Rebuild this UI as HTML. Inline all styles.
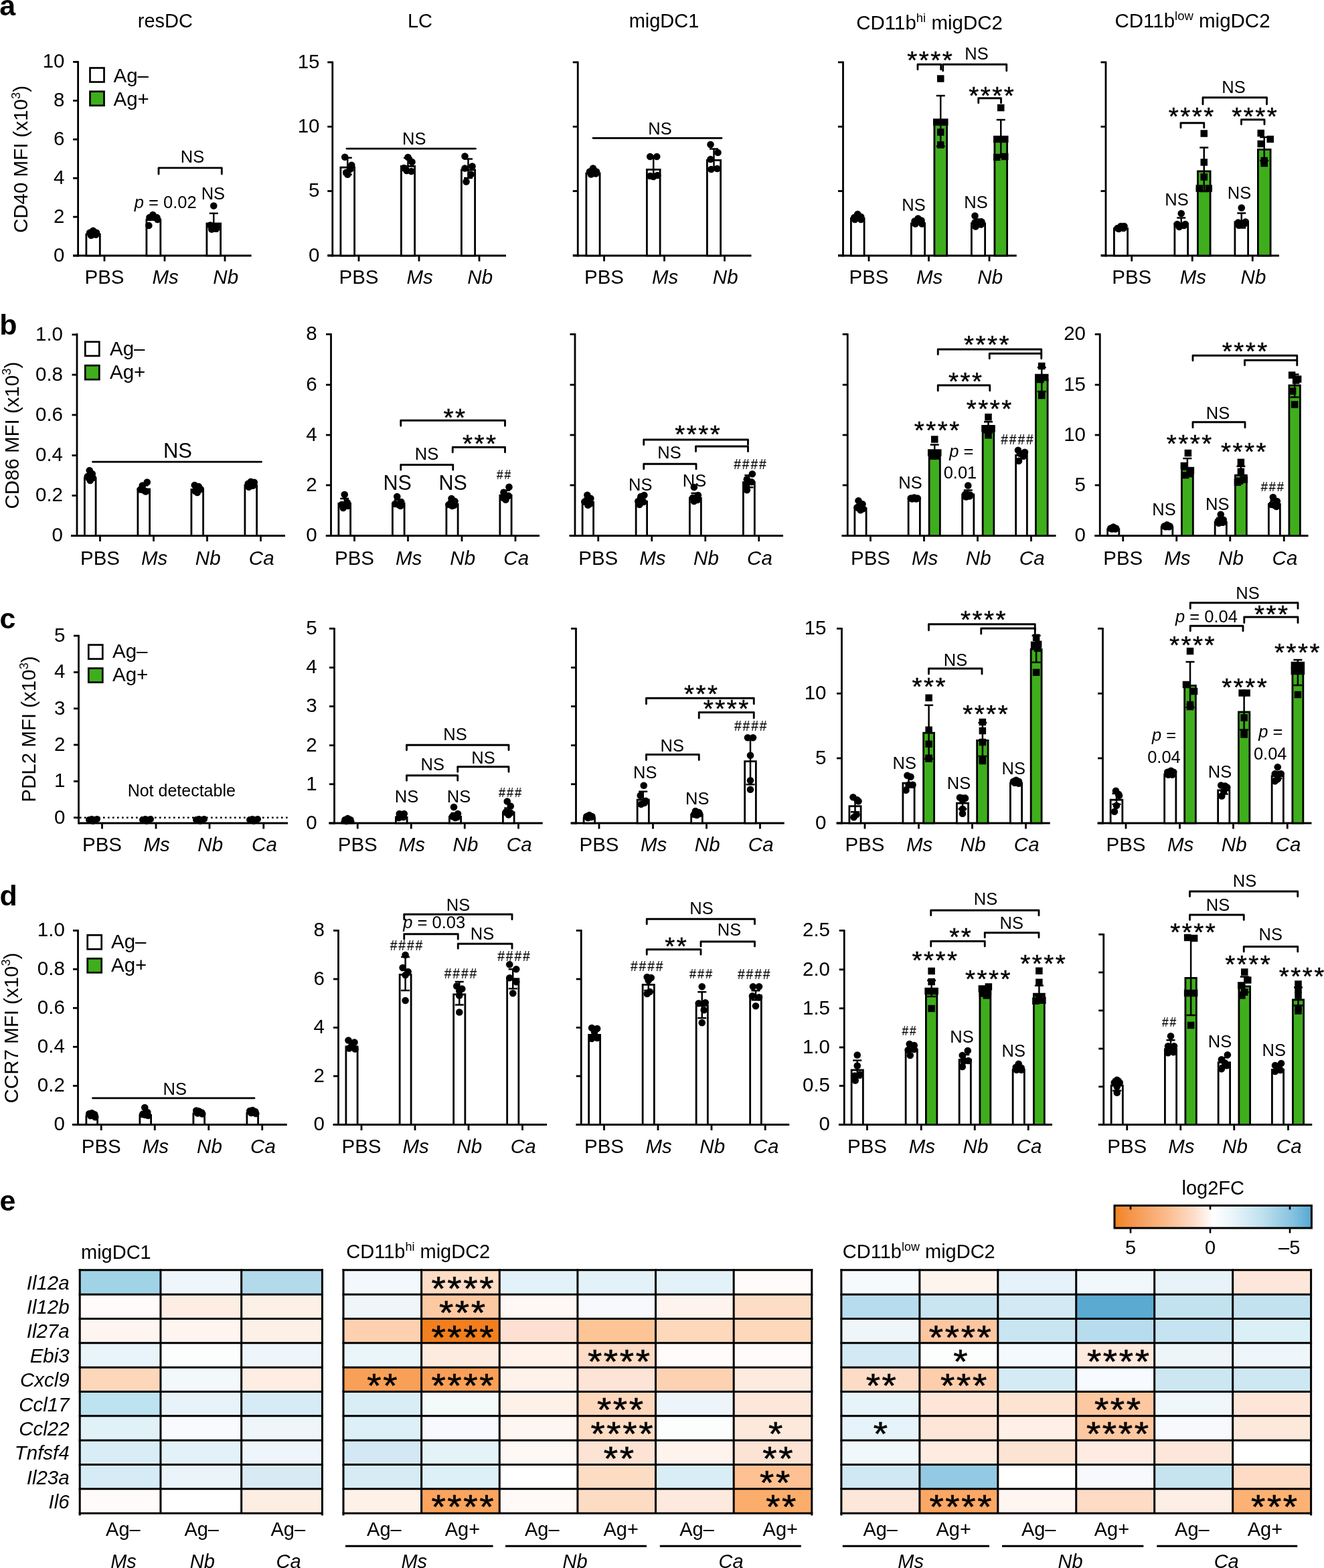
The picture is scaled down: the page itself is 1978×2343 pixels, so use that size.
<!DOCTYPE html>
<html><head><meta charset="utf-8"><title>Figure</title><style>html,body{margin:0;padding:0;background:#fff;}svg{display:block;}</style></head><body>
<svg width="1978" height="2343" viewBox="0 0 1978 2343" font-family="'Liberation Sans', Arial, Helvetica, sans-serif" fill="#000">
<rect width="1978" height="2343" fill="#fff"/>
<text x="-0.8" y="22.5" font-size="43" text-anchor="start" font-weight="bold">a</text>
<text x="246.9" y="41.1" font-size="29" text-anchor="middle">resDC</text>
<text x="627.5" y="41.1" font-size="29" text-anchor="middle">LC</text>
<text x="992" y="41.1" font-size="29" text-anchor="middle">migDC1</text>
<text x="1388.6" y="44.3" font-size="29.5" text-anchor="middle">CD11b<tspan font-size="18.5" dy="-11">hi</tspan><tspan dy="11"> migDC2</tspan></text>
<text x="1781.5" y="41.3" font-size="29.5" text-anchor="middle">CD11b<tspan font-size="18.5" dy="-11">low</tspan><tspan dy="11"> migDC2</tspan></text>
<text transform="translate(41.3,238) rotate(-90)" font-size="29.5" text-anchor="middle">CD40 MFI (x10<tspan font-size="18.29" dy="-11.21">3</tspan><tspan dy="11.21">)</tspan></text>
<line x1="116.6" y1="91.3" x2="116.6" y2="383.4" stroke="#000" stroke-width="2.8" stroke-linecap="butt"/>
<line x1="109.1" y1="92.5" x2="116.6" y2="92.5" stroke="#000" stroke-width="2.8" stroke-linecap="butt"/>
<text x="96.5" y="101.45" font-size="29.5" text-anchor="end">10</text>
<line x1="109.1" y1="150.4" x2="116.6" y2="150.4" stroke="#000" stroke-width="2.8" stroke-linecap="butt"/>
<text x="96.5" y="159.35" font-size="29.5" text-anchor="end">8</text>
<line x1="109.1" y1="208.3" x2="116.6" y2="208.3" stroke="#000" stroke-width="2.8" stroke-linecap="butt"/>
<text x="96.5" y="217.25" font-size="29.5" text-anchor="end">6</text>
<line x1="109.1" y1="266.2" x2="116.6" y2="266.2" stroke="#000" stroke-width="2.8" stroke-linecap="butt"/>
<text x="96.5" y="275.15" font-size="29.5" text-anchor="end">4</text>
<line x1="109.1" y1="324.1" x2="116.6" y2="324.1" stroke="#000" stroke-width="2.8" stroke-linecap="butt"/>
<text x="96.5" y="333.05" font-size="29.5" text-anchor="end">2</text>
<line x1="109.1" y1="382" x2="116.6" y2="382" stroke="#000" stroke-width="2.8" stroke-linecap="butt"/>
<text x="96.5" y="390.95" font-size="29.5" text-anchor="end">0</text>
<line x1="109.3" y1="382" x2="375.6" y2="382" stroke="#000" stroke-width="2.8" stroke-linecap="butt"/>
<line x1="156" y1="382" x2="156" y2="390.5" stroke="#000" stroke-width="2.8" stroke-linecap="butt"/>
<text x="156" y="424.2" font-size="29.5" text-anchor="middle">PBS</text>
<line x1="246" y1="382" x2="246" y2="390.5" stroke="#000" stroke-width="2.8" stroke-linecap="butt"/>
<text x="247.2" y="424.2" font-size="29.5" text-anchor="middle" font-style="italic">Ms</text>
<line x1="336" y1="382" x2="336" y2="390.5" stroke="#000" stroke-width="2.8" stroke-linecap="butt"/>
<text x="337.2" y="424.2" font-size="29.5" text-anchor="middle" font-style="italic">Nb</text>
<rect x="134.5" y="101.5" width="21" height="21" fill="#fff" stroke="#000" stroke-width="2.7"/>
<rect x="134.5" y="136.7" width="21" height="21" fill="#3fae1c" stroke="#000" stroke-width="2.7"/>
<text x="169.5" y="122.5" font-size="29.5" text-anchor="start">Ag–</text>
<text x="169.5" y="157.7" font-size="29.5" text-anchor="start">Ag+</text>
<rect x="128.9" y="350.1" width="20.4" height="31.9" fill="#fff" stroke="#000" stroke-width="2.8"/>
<line x1="139.1" y1="346.2" x2="139.1" y2="351.2" stroke="#000" stroke-width="2.5" stroke-linecap="butt"/>
<line x1="132.6" y1="346.2" x2="145.6" y2="346.2" stroke="#000" stroke-width="2.5" stroke-linecap="butt"/>
<circle cx="134.1" cy="347.7" r="5.3" fill="#000"/>
<circle cx="139.1" cy="344.7" r="5.3" fill="#000"/>
<circle cx="144.1" cy="347.7" r="5.3" fill="#000"/>
<circle cx="136.1" cy="351.7" r="5.3" fill="#000"/>
<circle cx="143.1" cy="350.7" r="5.3" fill="#000"/>
<rect x="218.9" y="328.4" width="20.9" height="53.6" fill="#fff" stroke="#000" stroke-width="2.8"/>
<line x1="229.35" y1="324" x2="229.35" y2="330" stroke="#000" stroke-width="2.5" stroke-linecap="butt"/>
<line x1="222.85" y1="324" x2="235.85" y2="324" stroke="#000" stroke-width="2.5" stroke-linecap="butt"/>
<circle cx="223.35" cy="325" r="5.3" fill="#000"/>
<circle cx="228.35" cy="321" r="5.3" fill="#000"/>
<circle cx="234.35" cy="325" r="5.3" fill="#000"/>
<circle cx="222.35" cy="337" r="5.3" fill="#000"/>
<circle cx="235.35" cy="328" r="5.3" fill="#000"/>
<rect x="308.9" y="334" width="20.7" height="48" fill="#fff" stroke="#000" stroke-width="2.8"/>
<line x1="319.25" y1="318.8" x2="319.25" y2="345.6" stroke="#000" stroke-width="2.5" stroke-linecap="butt"/>
<line x1="312.75" y1="318.8" x2="325.75" y2="318.8" stroke="#000" stroke-width="2.5" stroke-linecap="butt"/>
<line x1="312.75" y1="345.6" x2="325.75" y2="345.6" stroke="#000" stroke-width="2.5" stroke-linecap="butt"/>
<circle cx="319.25" cy="307.6" r="5.3" fill="#000"/>
<circle cx="314.25" cy="336.6" r="5.3" fill="#000"/>
<circle cx="324.25" cy="338.6" r="5.3" fill="#000"/>
<circle cx="316.25" cy="342.6" r="5.3" fill="#000"/>
<circle cx="323.25" cy="341.6" r="5.3" fill="#000"/>
<polyline points="237,260.1 237,250.8 331.3,250.8 331.3,260.1" fill="none" stroke="#000" stroke-width="2.85" stroke-linecap="round" stroke-linejoin="round"/>
<text x="287.5" y="243.3" font-size="25.5" text-anchor="middle">NS</text>
<text x="318.4" y="297.6" font-size="25.5" text-anchor="middle">NS</text>
<text x="247.3" y="310.7" font-size="25.5" text-anchor="middle"><tspan font-style="italic">p</tspan> = 0.02</text>
<line x1="496.75" y1="91.8" x2="496.75" y2="383.4" stroke="#000" stroke-width="2.8" stroke-linecap="butt"/>
<line x1="489.25" y1="93" x2="496.75" y2="93" stroke="#000" stroke-width="2.8" stroke-linecap="butt"/>
<text x="477.5" y="101.95" font-size="29.5" text-anchor="end">15</text>
<line x1="489.25" y1="189.25" x2="496.75" y2="189.25" stroke="#000" stroke-width="2.8" stroke-linecap="butt"/>
<text x="477.5" y="198.2" font-size="29.5" text-anchor="end">10</text>
<line x1="489.25" y1="285.5" x2="496.75" y2="285.5" stroke="#000" stroke-width="2.8" stroke-linecap="butt"/>
<text x="477.5" y="294.45" font-size="29.5" text-anchor="end">5</text>
<line x1="489.25" y1="381.75" x2="496.75" y2="381.75" stroke="#000" stroke-width="2.8" stroke-linecap="butt"/>
<text x="477.5" y="390.7" font-size="29.5" text-anchor="end">0</text>
<line x1="489.5" y1="382" x2="756" y2="382" stroke="#000" stroke-width="2.8" stroke-linecap="butt"/>
<line x1="536" y1="382" x2="536" y2="390.5" stroke="#000" stroke-width="2.8" stroke-linecap="butt"/>
<text x="536" y="424.2" font-size="29.5" text-anchor="middle">PBS</text>
<line x1="626" y1="382" x2="626" y2="390.5" stroke="#000" stroke-width="2.8" stroke-linecap="butt"/>
<text x="627.2" y="424.2" font-size="29.5" text-anchor="middle" font-style="italic">Ms</text>
<line x1="716" y1="382" x2="716" y2="390.5" stroke="#000" stroke-width="2.8" stroke-linecap="butt"/>
<text x="717.2" y="424.2" font-size="29.5" text-anchor="middle" font-style="italic">Nb</text>
<rect x="508.9" y="250.15" width="20.7" height="131.85" fill="#fff" stroke="#000" stroke-width="2.8"/>
<line x1="519.25" y1="235.75" x2="519.25" y2="260.75" stroke="#000" stroke-width="2.5" stroke-linecap="butt"/>
<line x1="512.75" y1="235.75" x2="525.75" y2="235.75" stroke="#000" stroke-width="2.5" stroke-linecap="butt"/>
<line x1="512.75" y1="260.75" x2="525.75" y2="260.75" stroke="#000" stroke-width="2.5" stroke-linecap="butt"/>
<circle cx="515.25" cy="234.75" r="5.3" fill="#000"/>
<circle cx="525.25" cy="246.75" r="5.3" fill="#000"/>
<circle cx="517.25" cy="257.75" r="5.3" fill="#000"/>
<circle cx="523.25" cy="252.75" r="5.3" fill="#000"/>
<circle cx="519.25" cy="260.75" r="5.3" fill="#000"/>
<rect x="599.4" y="248.4" width="20.2" height="133.6" fill="#fff" stroke="#000" stroke-width="2.8"/>
<line x1="609.5" y1="236" x2="609.5" y2="255" stroke="#000" stroke-width="2.5" stroke-linecap="butt"/>
<line x1="603" y1="236" x2="616" y2="236" stroke="#000" stroke-width="2.5" stroke-linecap="butt"/>
<line x1="603" y1="255" x2="616" y2="255" stroke="#000" stroke-width="2.5" stroke-linecap="butt"/>
<circle cx="603.5" cy="251" r="5.3" fill="#000"/>
<circle cx="609.5" cy="235" r="5.3" fill="#000"/>
<circle cx="615.5" cy="242" r="5.3" fill="#000"/>
<circle cx="607.5" cy="255" r="5.3" fill="#000"/>
<circle cx="614.5" cy="256" r="5.3" fill="#000"/>
<rect x="689.4" y="253.9" width="20.2" height="128.1" fill="#fff" stroke="#000" stroke-width="2.8"/>
<line x1="699.5" y1="237.5" x2="699.5" y2="266" stroke="#000" stroke-width="2.5" stroke-linecap="butt"/>
<line x1="693" y1="237.5" x2="706" y2="237.5" stroke="#000" stroke-width="2.5" stroke-linecap="butt"/>
<line x1="693" y1="266" x2="706" y2="266" stroke="#000" stroke-width="2.5" stroke-linecap="butt"/>
<circle cx="694.5" cy="233.5" r="5.3" fill="#000"/>
<circle cx="705.5" cy="248.5" r="5.3" fill="#000"/>
<circle cx="694.5" cy="251.5" r="5.3" fill="#000"/>
<circle cx="703.5" cy="260.5" r="5.3" fill="#000"/>
<circle cx="696.5" cy="271.5" r="5.3" fill="#000"/>
<line x1="518" y1="222.05" x2="710.5" y2="222.05" stroke="#000" stroke-width="2.85" stroke-linecap="round"/>
<text x="618.75" y="216.3" font-size="25.5" text-anchor="middle">NS</text>
<line x1="863.25" y1="91.8" x2="863.25" y2="383.4" stroke="#000" stroke-width="2.8" stroke-linecap="butt"/>
<line x1="855.75" y1="93" x2="863.25" y2="93" stroke="#000" stroke-width="2.8" stroke-linecap="butt"/>
<line x1="855.75" y1="189.25" x2="863.25" y2="189.25" stroke="#000" stroke-width="2.8" stroke-linecap="butt"/>
<line x1="855.75" y1="285.5" x2="863.25" y2="285.5" stroke="#000" stroke-width="2.8" stroke-linecap="butt"/>
<line x1="855.75" y1="381.75" x2="863.25" y2="381.75" stroke="#000" stroke-width="2.8" stroke-linecap="butt"/>
<line x1="856" y1="382" x2="1122.5" y2="382" stroke="#000" stroke-width="2.8" stroke-linecap="butt"/>
<line x1="902.5" y1="382" x2="902.5" y2="390.5" stroke="#000" stroke-width="2.8" stroke-linecap="butt"/>
<text x="902.5" y="424.2" font-size="29.5" text-anchor="middle">PBS</text>
<line x1="992.5" y1="382" x2="992.5" y2="390.5" stroke="#000" stroke-width="2.8" stroke-linecap="butt"/>
<text x="993.7" y="424.2" font-size="29.5" text-anchor="middle" font-style="italic">Ms</text>
<line x1="1082.5" y1="382" x2="1082.5" y2="390.5" stroke="#000" stroke-width="2.8" stroke-linecap="butt"/>
<text x="1083.7" y="424.2" font-size="29.5" text-anchor="middle" font-style="italic">Nb</text>
<rect x="875.9" y="258.9" width="20.2" height="123.1" fill="#fff" stroke="#000" stroke-width="2.8"/>
<line x1="886" y1="253.5" x2="886" y2="261.5" stroke="#000" stroke-width="2.5" stroke-linecap="butt"/>
<line x1="879.5" y1="253.5" x2="892.5" y2="253.5" stroke="#000" stroke-width="2.5" stroke-linecap="butt"/>
<line x1="879.5" y1="261.5" x2="892.5" y2="261.5" stroke="#000" stroke-width="2.5" stroke-linecap="butt"/>
<circle cx="881" cy="256.5" r="5.3" fill="#000"/>
<circle cx="886" cy="251.5" r="5.3" fill="#000"/>
<circle cx="891" cy="256.5" r="5.3" fill="#000"/>
<circle cx="883" cy="260.5" r="5.3" fill="#000"/>
<circle cx="890" cy="259.5" r="5.3" fill="#000"/>
<rect x="966.4" y="253.4" width="19.7" height="128.6" fill="#fff" stroke="#000" stroke-width="2.8"/>
<line x1="976.25" y1="234" x2="976.25" y2="260" stroke="#000" stroke-width="2.5" stroke-linecap="butt"/>
<line x1="969.75" y1="234" x2="982.75" y2="234" stroke="#000" stroke-width="2.5" stroke-linecap="butt"/>
<line x1="969.75" y1="260" x2="982.75" y2="260" stroke="#000" stroke-width="2.5" stroke-linecap="butt"/>
<circle cx="971.25" cy="234" r="5.3" fill="#000"/>
<circle cx="981.25" cy="234" r="5.3" fill="#000"/>
<circle cx="971.25" cy="263" r="5.3" fill="#000"/>
<circle cx="976.25" cy="264" r="5.3" fill="#000"/>
<circle cx="982.25" cy="262" r="5.3" fill="#000"/>
<rect x="1056.4" y="239.4" width="20.2" height="142.6" fill="#fff" stroke="#000" stroke-width="2.8"/>
<line x1="1066.5" y1="222.5" x2="1066.5" y2="252" stroke="#000" stroke-width="2.5" stroke-linecap="butt"/>
<line x1="1060" y1="222.5" x2="1073" y2="222.5" stroke="#000" stroke-width="2.5" stroke-linecap="butt"/>
<line x1="1060" y1="252" x2="1073" y2="252" stroke="#000" stroke-width="2.5" stroke-linecap="butt"/>
<circle cx="1061.5" cy="216" r="5.3" fill="#000"/>
<circle cx="1072.5" cy="228" r="5.3" fill="#000"/>
<circle cx="1061.5" cy="238" r="5.3" fill="#000"/>
<circle cx="1071.5" cy="252" r="5.3" fill="#000"/>
<circle cx="1062.5" cy="253" r="5.3" fill="#000"/>
<line x1="886" y1="206.3" x2="1078" y2="206.3" stroke="#000" stroke-width="2.85" stroke-linecap="round"/>
<text x="986" y="200.8" font-size="25.5" text-anchor="middle">NS</text>
<line x1="1259.5" y1="91.8" x2="1259.5" y2="383.4" stroke="#000" stroke-width="2.8" stroke-linecap="butt"/>
<line x1="1252" y1="93" x2="1259.5" y2="93" stroke="#000" stroke-width="2.8" stroke-linecap="butt"/>
<line x1="1252" y1="189.25" x2="1259.5" y2="189.25" stroke="#000" stroke-width="2.8" stroke-linecap="butt"/>
<line x1="1252" y1="285.5" x2="1259.5" y2="285.5" stroke="#000" stroke-width="2.8" stroke-linecap="butt"/>
<line x1="1252" y1="381.75" x2="1259.5" y2="381.75" stroke="#000" stroke-width="2.8" stroke-linecap="butt"/>
<line x1="1252" y1="382" x2="1518.75" y2="382" stroke="#000" stroke-width="2.8" stroke-linecap="butt"/>
<line x1="1298" y1="382" x2="1298" y2="390.5" stroke="#000" stroke-width="2.8" stroke-linecap="butt"/>
<text x="1298" y="424.2" font-size="29.5" text-anchor="middle">PBS</text>
<line x1="1387.5" y1="382" x2="1387.5" y2="390.5" stroke="#000" stroke-width="2.8" stroke-linecap="butt"/>
<text x="1388.7" y="424.2" font-size="29.5" text-anchor="middle" font-style="italic">Ms</text>
<line x1="1478" y1="382" x2="1478" y2="390.5" stroke="#000" stroke-width="2.8" stroke-linecap="butt"/>
<text x="1479.2" y="424.2" font-size="29.5" text-anchor="middle" font-style="italic">Nb</text>
<rect x="1271.4" y="326.4" width="19.7" height="55.6" fill="#fff" stroke="#000" stroke-width="2.8"/>
<line x1="1281.25" y1="322" x2="1281.25" y2="328" stroke="#000" stroke-width="2.5" stroke-linecap="butt"/>
<line x1="1274.75" y1="322" x2="1287.75" y2="322" stroke="#000" stroke-width="2.5" stroke-linecap="butt"/>
<circle cx="1276.25" cy="325" r="5.3" fill="#000"/>
<circle cx="1281.25" cy="320" r="5.3" fill="#000"/>
<circle cx="1286.25" cy="324" r="5.3" fill="#000"/>
<circle cx="1277.25" cy="328" r="5.3" fill="#000"/>
<circle cx="1286.25" cy="328" r="5.3" fill="#000"/>
<rect x="1361.4" y="333.9" width="20.2" height="48.1" fill="#fff" stroke="#000" stroke-width="2.8"/>
<line x1="1371.5" y1="329.5" x2="1371.5" y2="335.5" stroke="#000" stroke-width="2.5" stroke-linecap="butt"/>
<line x1="1365" y1="329.5" x2="1378" y2="329.5" stroke="#000" stroke-width="2.5" stroke-linecap="butt"/>
<circle cx="1366.5" cy="330.5" r="5.3" fill="#000"/>
<circle cx="1371.5" cy="326.5" r="5.3" fill="#000"/>
<circle cx="1376.5" cy="329.5" r="5.3" fill="#000"/>
<circle cx="1367.5" cy="334.5" r="5.3" fill="#000"/>
<circle cx="1377.5" cy="334.5" r="5.3" fill="#000"/>
<rect x="1395.9" y="181.9" width="18.7" height="200.1" fill="#3fae1c" stroke="#000" stroke-width="2.8"/>
<line x1="1405.25" y1="143" x2="1405.25" y2="218.5" stroke="#000" stroke-width="2.5" stroke-linecap="butt"/>
<line x1="1398.75" y1="143" x2="1411.75" y2="143" stroke="#000" stroke-width="2.5" stroke-linecap="butt"/>
<line x1="1398.75" y1="218.5" x2="1411.75" y2="218.5" stroke="#000" stroke-width="2.5" stroke-linecap="butt"/>
<rect x="1400" y="112.25" width="10.5" height="10.5" fill="#000"/>
<rect x="1394" y="177.25" width="10.5" height="10.5" fill="#000"/>
<rect x="1406" y="177.25" width="10.5" height="10.5" fill="#000"/>
<rect x="1400" y="192.25" width="10.5" height="10.5" fill="#000"/>
<rect x="1400" y="211.25" width="10.5" height="10.5" fill="#000"/>
<rect x="1451.4" y="333.9" width="20.2" height="48.1" fill="#fff" stroke="#000" stroke-width="2.8"/>
<line x1="1461.5" y1="327.5" x2="1461.5" y2="337.5" stroke="#000" stroke-width="2.5" stroke-linecap="butt"/>
<line x1="1455" y1="327.5" x2="1468" y2="327.5" stroke="#000" stroke-width="2.5" stroke-linecap="butt"/>
<line x1="1455" y1="337.5" x2="1468" y2="337.5" stroke="#000" stroke-width="2.5" stroke-linecap="butt"/>
<circle cx="1456.5" cy="322.5" r="5.3" fill="#000"/>
<circle cx="1456.5" cy="332.5" r="5.3" fill="#000"/>
<circle cx="1466.5" cy="331.5" r="5.3" fill="#000"/>
<circle cx="1457.5" cy="338.5" r="5.3" fill="#000"/>
<circle cx="1465.5" cy="335.5" r="5.3" fill="#000"/>
<rect x="1485.9" y="208.4" width="18.7" height="173.6" fill="#3fae1c" stroke="#000" stroke-width="2.8"/>
<line x1="1495.25" y1="179" x2="1495.25" y2="235" stroke="#000" stroke-width="2.5" stroke-linecap="butt"/>
<line x1="1488.75" y1="179" x2="1501.75" y2="179" stroke="#000" stroke-width="2.5" stroke-linecap="butt"/>
<line x1="1488.75" y1="235" x2="1501.75" y2="235" stroke="#000" stroke-width="2.5" stroke-linecap="butt"/>
<rect x="1490" y="155.75" width="10.5" height="10.5" fill="#000"/>
<rect x="1484" y="202.75" width="10.5" height="10.5" fill="#000"/>
<rect x="1496" y="202.75" width="10.5" height="10.5" fill="#000"/>
<rect x="1484" y="229.75" width="10.5" height="10.5" fill="#000"/>
<rect x="1496" y="228.75" width="10.5" height="10.5" fill="#000"/>
<polyline points="1371,103.7 1371,96.2 1405.75,96.2 1405.75,103.7" fill="none" stroke="#000" stroke-width="2.85" stroke-linecap="round" stroke-linejoin="round"/>
<polyline points="1408.75,105.7 1408.75,96.2 1503.75,96.2 1503.75,105.7" fill="none" stroke="#000" stroke-width="2.85" stroke-linecap="round" stroke-linejoin="round"/>
<text x="1357.02 1373.6 1390.17 1406.74" y="103" font-size="36.5" stroke="#000" stroke-width="0.45" transform="matrix(1.056 0 0 1 -77.78 0)">****</text>
<text x="1459" y="88.8" font-size="25.5" text-anchor="middle">NS</text>
<polyline points="1461.75,153.7 1461.75,146.7 1495.5,146.7 1495.5,153.7" fill="none" stroke="#000" stroke-width="2.85" stroke-linecap="round" stroke-linejoin="round"/>
<text x="1449.02 1465.6 1482.17 1498.74" y="155.7" font-size="36.5" stroke="#000" stroke-width="0.45" transform="matrix(1.056 0 0 1 -82.94 0)">****</text>
<text x="1365" y="314.8" font-size="25.5" text-anchor="middle">NS</text>
<text x="1458" y="310.8" font-size="25.5" text-anchor="middle">NS</text>
<line x1="1652" y1="91.8" x2="1652" y2="383.4" stroke="#000" stroke-width="2.8" stroke-linecap="butt"/>
<line x1="1644.5" y1="93" x2="1652" y2="93" stroke="#000" stroke-width="2.8" stroke-linecap="butt"/>
<line x1="1644.5" y1="189.25" x2="1652" y2="189.25" stroke="#000" stroke-width="2.8" stroke-linecap="butt"/>
<line x1="1644.5" y1="285.5" x2="1652" y2="285.5" stroke="#000" stroke-width="2.8" stroke-linecap="butt"/>
<line x1="1644.5" y1="381.75" x2="1652" y2="381.75" stroke="#000" stroke-width="2.8" stroke-linecap="butt"/>
<line x1="1645" y1="382" x2="1911" y2="382" stroke="#000" stroke-width="2.8" stroke-linecap="butt"/>
<line x1="1690.75" y1="382" x2="1690.75" y2="390.5" stroke="#000" stroke-width="2.8" stroke-linecap="butt"/>
<text x="1690.75" y="424.2" font-size="29.5" text-anchor="middle">PBS</text>
<line x1="1781.25" y1="382" x2="1781.25" y2="390.5" stroke="#000" stroke-width="2.8" stroke-linecap="butt"/>
<text x="1782.45" y="424.2" font-size="29.5" text-anchor="middle" font-style="italic">Ms</text>
<line x1="1871.25" y1="382" x2="1871.25" y2="390.5" stroke="#000" stroke-width="2.8" stroke-linecap="butt"/>
<text x="1872.45" y="424.2" font-size="29.5" text-anchor="middle" font-style="italic">Nb</text>
<rect x="1664.4" y="341.4" width="20.2" height="40.6" fill="#fff" stroke="#000" stroke-width="2.8"/>
<line x1="1674.5" y1="337.5" x2="1674.5" y2="342.5" stroke="#000" stroke-width="2.5" stroke-linecap="butt"/>
<line x1="1668" y1="337.5" x2="1681" y2="337.5" stroke="#000" stroke-width="2.5" stroke-linecap="butt"/>
<circle cx="1669.5" cy="341" r="5.3" fill="#000"/>
<circle cx="1674.5" cy="338" r="5.3" fill="#000"/>
<circle cx="1679.5" cy="338" r="5.3" fill="#000"/>
<circle cx="1671.5" cy="342" r="5.3" fill="#000"/>
<circle cx="1678.5" cy="341" r="5.3" fill="#000"/>
<rect x="1754.9" y="334.4" width="19.7" height="47.6" fill="#fff" stroke="#000" stroke-width="2.8"/>
<line x1="1764.75" y1="325.5" x2="1764.75" y2="340.5" stroke="#000" stroke-width="2.5" stroke-linecap="butt"/>
<line x1="1758.25" y1="325.5" x2="1771.25" y2="325.5" stroke="#000" stroke-width="2.5" stroke-linecap="butt"/>
<line x1="1758.25" y1="340.5" x2="1771.25" y2="340.5" stroke="#000" stroke-width="2.5" stroke-linecap="butt"/>
<circle cx="1764.75" cy="319" r="5.3" fill="#000"/>
<circle cx="1758.75" cy="335" r="5.3" fill="#000"/>
<circle cx="1770.75" cy="335" r="5.3" fill="#000"/>
<circle cx="1761.75" cy="339" r="5.3" fill="#000"/>
<circle cx="1768.75" cy="337" r="5.3" fill="#000"/>
<rect x="1789.4" y="255.9" width="18.7" height="126.1" fill="#3fae1c" stroke="#000" stroke-width="2.8"/>
<line x1="1798.75" y1="220.5" x2="1798.75" y2="286" stroke="#000" stroke-width="2.5" stroke-linecap="butt"/>
<line x1="1792.25" y1="220.5" x2="1805.25" y2="220.5" stroke="#000" stroke-width="2.5" stroke-linecap="butt"/>
<line x1="1792.25" y1="286" x2="1805.25" y2="286" stroke="#000" stroke-width="2.5" stroke-linecap="butt"/>
<rect x="1793.5" y="194.25" width="10.5" height="10.5" fill="#000"/>
<rect x="1793.5" y="237.25" width="10.5" height="10.5" fill="#000"/>
<rect x="1793.5" y="259.25" width="10.5" height="10.5" fill="#000"/>
<rect x="1786.5" y="276.25" width="10.5" height="10.5" fill="#000"/>
<rect x="1800.5" y="276.25" width="10.5" height="10.5" fill="#000"/>
<rect x="1844.9" y="331.9" width="19.7" height="50.1" fill="#fff" stroke="#000" stroke-width="2.8"/>
<line x1="1854.75" y1="318.5" x2="1854.75" y2="340.5" stroke="#000" stroke-width="2.5" stroke-linecap="butt"/>
<line x1="1848.25" y1="318.5" x2="1861.25" y2="318.5" stroke="#000" stroke-width="2.5" stroke-linecap="butt"/>
<line x1="1848.25" y1="340.5" x2="1861.25" y2="340.5" stroke="#000" stroke-width="2.5" stroke-linecap="butt"/>
<circle cx="1854.75" cy="310.5" r="5.3" fill="#000"/>
<circle cx="1849.75" cy="332.5" r="5.3" fill="#000"/>
<circle cx="1860.75" cy="331.5" r="5.3" fill="#000"/>
<circle cx="1850.75" cy="336.5" r="5.3" fill="#000"/>
<circle cx="1858.75" cy="334.5" r="5.3" fill="#000"/>
<rect x="1879.4" y="223.4" width="18.7" height="158.6" fill="#3fae1c" stroke="#000" stroke-width="2.8"/>
<line x1="1888.75" y1="205" x2="1888.75" y2="240" stroke="#000" stroke-width="2.5" stroke-linecap="butt"/>
<line x1="1882.25" y1="205" x2="1895.25" y2="205" stroke="#000" stroke-width="2.5" stroke-linecap="butt"/>
<line x1="1882.25" y1="240" x2="1895.25" y2="240" stroke="#000" stroke-width="2.5" stroke-linecap="butt"/>
<rect x="1878.5" y="193.75" width="10.5" height="10.5" fill="#000"/>
<rect x="1892.5" y="202.75" width="10.5" height="10.5" fill="#000"/>
<rect x="1878.5" y="209.75" width="10.5" height="10.5" fill="#000"/>
<rect x="1883.5" y="234.75" width="10.5" height="10.5" fill="#000"/>
<rect x="1883.5" y="238.75" width="10.5" height="10.5" fill="#000"/>
<polyline points="1764,190.7 1764,183.7 1798.75,183.7 1798.75,190.7" fill="none" stroke="#000" stroke-width="2.85" stroke-linecap="round" stroke-linejoin="round"/>
<text x="1747.52 1764.1 1780.67 1797.24" y="187.2" font-size="36.5" stroke="#000" stroke-width="0.45" transform="matrix(1.056 0 0 1 -99.65 0)">****</text>
<polyline points="1854.5,185.7 1854.5,178.7 1889,178.7 1889,185.7" fill="none" stroke="#000" stroke-width="2.85" stroke-linecap="round" stroke-linejoin="round"/>
<text x="1842.02 1858.6 1875.17 1891.74" y="187.2" font-size="36.5" stroke="#000" stroke-width="0.45" transform="matrix(1.056 0 0 1 -104.94 0)">****</text>
<polyline points="1797,155.7 1797,145.7 1892.5,145.7 1892.5,155.7" fill="none" stroke="#000" stroke-width="2.85" stroke-linecap="round" stroke-linejoin="round"/>
<text x="1843" y="138.8" font-size="25.5" text-anchor="middle">NS</text>
<text x="1758" y="306.8" font-size="25.5" text-anchor="middle">NS</text>
<text x="1851.5" y="296.8" font-size="25.5" text-anchor="middle">NS</text>
<text x="-0.8" y="499.6" font-size="43" text-anchor="start" font-weight="bold">b</text>
<text transform="translate(27.6,650.6) rotate(-90)" font-size="29.5" text-anchor="middle">CD86 MFI (x10<tspan font-size="18.29" dy="-11.21">3</tspan><tspan dy="11.21">)</tspan></text>
<line x1="115" y1="498.3" x2="115" y2="801.9" stroke="#000" stroke-width="2.8" stroke-linecap="butt"/>
<line x1="107.5" y1="500" x2="115" y2="500" stroke="#000" stroke-width="2.8" stroke-linecap="butt"/>
<text x="94" y="508.95" font-size="29.5" text-anchor="end">1.0</text>
<line x1="107.5" y1="560" x2="115" y2="560" stroke="#000" stroke-width="2.8" stroke-linecap="butt"/>
<text x="94" y="568.95" font-size="29.5" text-anchor="end">0.8</text>
<line x1="107.5" y1="620" x2="115" y2="620" stroke="#000" stroke-width="2.8" stroke-linecap="butt"/>
<text x="94" y="628.95" font-size="29.5" text-anchor="end">0.6</text>
<line x1="107.5" y1="680.5" x2="115" y2="680.5" stroke="#000" stroke-width="2.8" stroke-linecap="butt"/>
<text x="94" y="689.45" font-size="29.5" text-anchor="end">0.4</text>
<line x1="107.5" y1="740.5" x2="115" y2="740.5" stroke="#000" stroke-width="2.8" stroke-linecap="butt"/>
<text x="94" y="749.45" font-size="29.5" text-anchor="end">0.2</text>
<line x1="107.5" y1="800.5" x2="115" y2="800.5" stroke="#000" stroke-width="2.8" stroke-linecap="butt"/>
<text x="94" y="809.45" font-size="29.5" text-anchor="end">0</text>
<line x1="106" y1="800.5" x2="426" y2="800.5" stroke="#000" stroke-width="2.8" stroke-linecap="butt"/>
<line x1="149.5" y1="800.5" x2="149.5" y2="809" stroke="#000" stroke-width="2.8" stroke-linecap="butt"/>
<text x="149.5" y="843.8" font-size="29.5" text-anchor="middle">PBS</text>
<line x1="229.5" y1="800.5" x2="229.5" y2="809" stroke="#000" stroke-width="2.8" stroke-linecap="butt"/>
<text x="230.7" y="843.8" font-size="29.5" text-anchor="middle" font-style="italic">Ms</text>
<line x1="309.5" y1="800.5" x2="309.5" y2="809" stroke="#000" stroke-width="2.8" stroke-linecap="butt"/>
<text x="310.7" y="843.8" font-size="29.5" text-anchor="middle" font-style="italic">Nb</text>
<line x1="389.5" y1="800.5" x2="389.5" y2="809" stroke="#000" stroke-width="2.8" stroke-linecap="butt"/>
<text x="390.7" y="843.8" font-size="29.5" text-anchor="middle" font-style="italic">Ca</text>
<rect x="127.3" y="510.8" width="21" height="21" fill="#fff" stroke="#000" stroke-width="2.7"/>
<rect x="127.3" y="546.1" width="21" height="21" fill="#3fae1c" stroke="#000" stroke-width="2.7"/>
<text x="164" y="531.3" font-size="29.5" text-anchor="start">Ag–</text>
<text x="164" y="565.8" font-size="29.5" text-anchor="start">Ag+</text>
<rect x="126.4" y="714.4" width="16.7" height="86.1" fill="#fff" stroke="#000" stroke-width="2.8"/>
<line x1="134.75" y1="709" x2="134.75" y2="717" stroke="#000" stroke-width="2.5" stroke-linecap="butt"/>
<line x1="128.25" y1="709" x2="141.25" y2="709" stroke="#000" stroke-width="2.5" stroke-linecap="butt"/>
<line x1="128.25" y1="717" x2="141.25" y2="717" stroke="#000" stroke-width="2.5" stroke-linecap="butt"/>
<circle cx="133.75" cy="703" r="5.3" fill="#000"/>
<circle cx="137.75" cy="708" r="5.3" fill="#000"/>
<circle cx="130.75" cy="712" r="5.3" fill="#000"/>
<circle cx="138.75" cy="714" r="5.3" fill="#000"/>
<circle cx="134.75" cy="718" r="5.3" fill="#000"/>
<rect x="205.9" y="730.9" width="17.7" height="69.6" fill="#fff" stroke="#000" stroke-width="2.8"/>
<line x1="214.75" y1="725.5" x2="214.75" y2="733.5" stroke="#000" stroke-width="2.5" stroke-linecap="butt"/>
<line x1="208.25" y1="725.5" x2="221.25" y2="725.5" stroke="#000" stroke-width="2.5" stroke-linecap="butt"/>
<line x1="208.25" y1="733.5" x2="221.25" y2="733.5" stroke="#000" stroke-width="2.5" stroke-linecap="butt"/>
<circle cx="219.75" cy="720.5" r="5.3" fill="#000"/>
<circle cx="212.75" cy="725.5" r="5.3" fill="#000"/>
<circle cx="209.75" cy="731.5" r="5.3" fill="#000"/>
<circle cx="217.75" cy="734.5" r="5.3" fill="#000"/>
<circle cx="214.75" cy="732.5" r="5.3" fill="#000"/>
<rect x="285.9" y="731.4" width="17.7" height="69.1" fill="#fff" stroke="#000" stroke-width="2.8"/>
<line x1="294.75" y1="726" x2="294.75" y2="734" stroke="#000" stroke-width="2.5" stroke-linecap="butt"/>
<line x1="288.25" y1="726" x2="301.25" y2="726" stroke="#000" stroke-width="2.5" stroke-linecap="butt"/>
<line x1="288.25" y1="734" x2="301.25" y2="734" stroke="#000" stroke-width="2.5" stroke-linecap="butt"/>
<circle cx="290.75" cy="725" r="5.3" fill="#000"/>
<circle cx="296.75" cy="727" r="5.3" fill="#000"/>
<circle cx="299.75" cy="731" r="5.3" fill="#000"/>
<circle cx="291.75" cy="734" r="5.3" fill="#000"/>
<circle cx="294.75" cy="736" r="5.3" fill="#000"/>
<rect x="365.9" y="725.15" width="17.7" height="75.35" fill="#fff" stroke="#000" stroke-width="2.8"/>
<line x1="374.75" y1="720.75" x2="374.75" y2="726.75" stroke="#000" stroke-width="2.5" stroke-linecap="butt"/>
<line x1="368.25" y1="720.75" x2="381.25" y2="720.75" stroke="#000" stroke-width="2.5" stroke-linecap="butt"/>
<circle cx="370.75" cy="722.75" r="5.3" fill="#000"/>
<circle cx="374.75" cy="719.75" r="5.3" fill="#000"/>
<circle cx="379.75" cy="720.75" r="5.3" fill="#000"/>
<circle cx="371.75" cy="727.75" r="5.3" fill="#000"/>
<circle cx="377.75" cy="725.75" r="5.3" fill="#000"/>
<line x1="138.5" y1="690.05" x2="390.5" y2="690.05" stroke="#000" stroke-width="2.85" stroke-linecap="round"/>
<text x="265.5" y="683.8" font-size="31" text-anchor="middle">NS</text>
<line x1="494.5" y1="498.3" x2="494.5" y2="801.9" stroke="#000" stroke-width="2.8" stroke-linecap="butt"/>
<line x1="487" y1="499.5" x2="494.5" y2="499.5" stroke="#000" stroke-width="2.8" stroke-linecap="butt"/>
<text x="473.75" y="508.45" font-size="29.5" text-anchor="end">8</text>
<line x1="487" y1="575" x2="494.5" y2="575" stroke="#000" stroke-width="2.8" stroke-linecap="butt"/>
<text x="473.75" y="583.95" font-size="29.5" text-anchor="end">6</text>
<line x1="487" y1="650" x2="494.5" y2="650" stroke="#000" stroke-width="2.8" stroke-linecap="butt"/>
<text x="473.75" y="658.95" font-size="29.5" text-anchor="end">4</text>
<line x1="487" y1="725" x2="494.5" y2="725" stroke="#000" stroke-width="2.8" stroke-linecap="butt"/>
<text x="473.75" y="733.95" font-size="29.5" text-anchor="end">2</text>
<line x1="487" y1="800.5" x2="494.5" y2="800.5" stroke="#000" stroke-width="2.8" stroke-linecap="butt"/>
<text x="473.75" y="809.45" font-size="29.5" text-anchor="end">0</text>
<line x1="486.75" y1="800.5" x2="806" y2="800.5" stroke="#000" stroke-width="2.8" stroke-linecap="butt"/>
<line x1="529.5" y1="800.5" x2="529.5" y2="809" stroke="#000" stroke-width="2.8" stroke-linecap="butt"/>
<text x="529.5" y="843.8" font-size="29.5" text-anchor="middle">PBS</text>
<line x1="609.5" y1="800.5" x2="609.5" y2="809" stroke="#000" stroke-width="2.8" stroke-linecap="butt"/>
<text x="610.7" y="843.8" font-size="29.5" text-anchor="middle" font-style="italic">Ms</text>
<line x1="690" y1="800.5" x2="690" y2="809" stroke="#000" stroke-width="2.8" stroke-linecap="butt"/>
<text x="691.2" y="843.8" font-size="29.5" text-anchor="middle" font-style="italic">Nb</text>
<line x1="770" y1="800.5" x2="770" y2="809" stroke="#000" stroke-width="2.8" stroke-linecap="butt"/>
<text x="771.2" y="843.8" font-size="29.5" text-anchor="middle" font-style="italic">Ca</text>
<rect x="505.9" y="752.4" width="17.7" height="48.1" fill="#fff" stroke="#000" stroke-width="2.8"/>
<line x1="514.75" y1="745" x2="514.75" y2="757" stroke="#000" stroke-width="2.5" stroke-linecap="butt"/>
<line x1="508.25" y1="745" x2="521.25" y2="745" stroke="#000" stroke-width="2.5" stroke-linecap="butt"/>
<line x1="508.25" y1="757" x2="521.25" y2="757" stroke="#000" stroke-width="2.5" stroke-linecap="butt"/>
<circle cx="514.75" cy="739" r="5.3" fill="#000"/>
<circle cx="510.75" cy="754" r="5.3" fill="#000"/>
<circle cx="518.75" cy="751" r="5.3" fill="#000"/>
<circle cx="512.75" cy="759" r="5.3" fill="#000"/>
<circle cx="519.75" cy="756" r="5.3" fill="#000"/>
<rect x="586.4" y="752.4" width="17.7" height="48.1" fill="#fff" stroke="#000" stroke-width="2.8"/>
<line x1="595.25" y1="747" x2="595.25" y2="755" stroke="#000" stroke-width="2.5" stroke-linecap="butt"/>
<line x1="588.75" y1="747" x2="601.75" y2="747" stroke="#000" stroke-width="2.5" stroke-linecap="butt"/>
<line x1="588.75" y1="755" x2="601.75" y2="755" stroke="#000" stroke-width="2.5" stroke-linecap="butt"/>
<circle cx="593.25" cy="742" r="5.3" fill="#000"/>
<circle cx="599.25" cy="750" r="5.3" fill="#000"/>
<circle cx="590.25" cy="753" r="5.3" fill="#000"/>
<circle cx="598.25" cy="756" r="5.3" fill="#000"/>
<circle cx="595.25" cy="754" r="5.3" fill="#000"/>
<rect x="666.9" y="753.4" width="17.2" height="47.1" fill="#fff" stroke="#000" stroke-width="2.8"/>
<line x1="675.5" y1="749" x2="675.5" y2="755" stroke="#000" stroke-width="2.5" stroke-linecap="butt"/>
<line x1="669" y1="749" x2="682" y2="749" stroke="#000" stroke-width="2.5" stroke-linecap="butt"/>
<circle cx="674.5" cy="745" r="5.3" fill="#000"/>
<circle cx="679.5" cy="749" r="5.3" fill="#000"/>
<circle cx="670.5" cy="754" r="5.3" fill="#000"/>
<circle cx="678.5" cy="755" r="5.3" fill="#000"/>
<circle cx="675.5" cy="756" r="5.3" fill="#000"/>
<rect x="746.9" y="740.15" width="17.2" height="60.35" fill="#fff" stroke="#000" stroke-width="2.8"/>
<line x1="755.5" y1="732.75" x2="755.5" y2="744.75" stroke="#000" stroke-width="2.5" stroke-linecap="butt"/>
<line x1="749" y1="732.75" x2="762" y2="732.75" stroke="#000" stroke-width="2.5" stroke-linecap="butt"/>
<line x1="749" y1="744.75" x2="762" y2="744.75" stroke="#000" stroke-width="2.5" stroke-linecap="butt"/>
<circle cx="760.5" cy="727.75" r="5.3" fill="#000"/>
<circle cx="752.5" cy="735.75" r="5.3" fill="#000"/>
<circle cx="759.5" cy="740.75" r="5.3" fill="#000"/>
<circle cx="751.5" cy="743.75" r="5.3" fill="#000"/>
<circle cx="755.5" cy="746.75" r="5.3" fill="#000"/>
<text x="593.75" y="731.8" font-size="30.5" text-anchor="middle">NS</text>
<text x="676.75" y="731.8" font-size="30.5" text-anchor="middle">NS</text>
<text x="740.34 753.56" y="716.2" font-size="20" stroke="#000" stroke-width="0.15" transform="matrix(0.87 0 0 1 97.83 0)">##</text>
<polyline points="598.75,701.95 598.75,694.45 676.75,694.45 676.75,701.95" fill="none" stroke="#000" stroke-width="2.85" stroke-linecap="round" stroke-linejoin="round"/>
<text x="637.5" y="686.8" font-size="25.5" text-anchor="middle">NS</text>
<polyline points="676.25,675.7 676.25,668.2 754.5,668.2 754.5,675.7" fill="none" stroke="#000" stroke-width="2.85" stroke-linecap="round" stroke-linejoin="round"/>
<text x="692.31 708.88 725.45" y="675.7" font-size="36.5" stroke="#000" stroke-width="0.45" transform="matrix(1.056 0 0 1 -40.1 0)">***</text>
<polyline points="598.75,636.2 598.75,628.2 754.5,628.2 754.5,636.2" fill="none" stroke="#000" stroke-width="2.85" stroke-linecap="round" stroke-linejoin="round"/>
<text x="663.35 679.92" y="636.95" font-size="36.5" stroke="#000" stroke-width="0.45" transform="matrix(1.056 0 0 1 -38.01 0)">**</text>
<line x1="859" y1="498.3" x2="859" y2="801.9" stroke="#000" stroke-width="2.8" stroke-linecap="butt"/>
<line x1="851.5" y1="499.5" x2="859" y2="499.5" stroke="#000" stroke-width="2.8" stroke-linecap="butt"/>
<line x1="851.5" y1="575" x2="859" y2="575" stroke="#000" stroke-width="2.8" stroke-linecap="butt"/>
<line x1="851.5" y1="650" x2="859" y2="650" stroke="#000" stroke-width="2.8" stroke-linecap="butt"/>
<line x1="851.5" y1="725" x2="859" y2="725" stroke="#000" stroke-width="2.8" stroke-linecap="butt"/>
<line x1="851.5" y1="800.5" x2="859" y2="800.5" stroke="#000" stroke-width="2.8" stroke-linecap="butt"/>
<line x1="850.5" y1="800.5" x2="1170" y2="800.5" stroke="#000" stroke-width="2.8" stroke-linecap="butt"/>
<line x1="893.75" y1="800.5" x2="893.75" y2="809" stroke="#000" stroke-width="2.8" stroke-linecap="butt"/>
<text x="893.75" y="843.8" font-size="29.5" text-anchor="middle">PBS</text>
<line x1="973.75" y1="800.5" x2="973.75" y2="809" stroke="#000" stroke-width="2.8" stroke-linecap="butt"/>
<text x="974.95" y="843.8" font-size="29.5" text-anchor="middle" font-style="italic">Ms</text>
<line x1="1053.75" y1="800.5" x2="1053.75" y2="809" stroke="#000" stroke-width="2.8" stroke-linecap="butt"/>
<text x="1054.95" y="843.8" font-size="29.5" text-anchor="middle" font-style="italic">Nb</text>
<line x1="1133.75" y1="800.5" x2="1133.75" y2="809" stroke="#000" stroke-width="2.8" stroke-linecap="butt"/>
<text x="1134.95" y="843.8" font-size="29.5" text-anchor="middle" font-style="italic">Ca</text>
<rect x="870.15" y="750.15" width="16.45" height="50.35" fill="#fff" stroke="#000" stroke-width="2.8"/>
<line x1="878.38" y1="744.75" x2="878.38" y2="752.75" stroke="#000" stroke-width="2.5" stroke-linecap="butt"/>
<line x1="871.88" y1="744.75" x2="884.88" y2="744.75" stroke="#000" stroke-width="2.5" stroke-linecap="butt"/>
<line x1="871.88" y1="752.75" x2="884.88" y2="752.75" stroke="#000" stroke-width="2.5" stroke-linecap="butt"/>
<circle cx="877.38" cy="739.75" r="5.3" fill="#000"/>
<circle cx="882.38" cy="744.75" r="5.3" fill="#000"/>
<circle cx="873.38" cy="749.75" r="5.3" fill="#000"/>
<circle cx="881.38" cy="752.75" r="5.3" fill="#000"/>
<circle cx="878.38" cy="754.75" r="5.3" fill="#000"/>
<rect x="950.15" y="749.4" width="16.45" height="51.1" fill="#fff" stroke="#000" stroke-width="2.8"/>
<line x1="958.38" y1="744" x2="958.38" y2="752" stroke="#000" stroke-width="2.5" stroke-linecap="butt"/>
<line x1="951.88" y1="744" x2="964.88" y2="744" stroke="#000" stroke-width="2.5" stroke-linecap="butt"/>
<line x1="951.88" y1="752" x2="964.88" y2="752" stroke="#000" stroke-width="2.5" stroke-linecap="butt"/>
<circle cx="962.38" cy="740" r="5.3" fill="#000"/>
<circle cx="957.38" cy="742" r="5.3" fill="#000"/>
<circle cx="953.38" cy="749" r="5.3" fill="#000"/>
<circle cx="961.38" cy="750" r="5.3" fill="#000"/>
<circle cx="955.38" cy="754" r="5.3" fill="#000"/>
<rect x="1030.4" y="744.4" width="16.95" height="56.1" fill="#fff" stroke="#000" stroke-width="2.8"/>
<line x1="1038.88" y1="737" x2="1038.88" y2="749" stroke="#000" stroke-width="2.5" stroke-linecap="butt"/>
<line x1="1032.38" y1="737" x2="1045.38" y2="737" stroke="#000" stroke-width="2.5" stroke-linecap="butt"/>
<line x1="1032.38" y1="749" x2="1045.38" y2="749" stroke="#000" stroke-width="2.5" stroke-linecap="butt"/>
<circle cx="1036.88" cy="728" r="5.3" fill="#000"/>
<circle cx="1042.88" cy="740" r="5.3" fill="#000"/>
<circle cx="1034.88" cy="744" r="5.3" fill="#000"/>
<circle cx="1041.88" cy="747" r="5.3" fill="#000"/>
<circle cx="1036.88" cy="749" r="5.3" fill="#000"/>
<rect x="1110.4" y="720.65" width="16.95" height="79.85" fill="#fff" stroke="#000" stroke-width="2.8"/>
<line x1="1118.88" y1="710.25" x2="1118.88" y2="728.25" stroke="#000" stroke-width="2.5" stroke-linecap="butt"/>
<line x1="1112.38" y1="710.25" x2="1125.38" y2="710.25" stroke="#000" stroke-width="2.5" stroke-linecap="butt"/>
<line x1="1112.38" y1="728.25" x2="1125.38" y2="728.25" stroke="#000" stroke-width="2.5" stroke-linecap="butt"/>
<circle cx="1123.88" cy="708.25" r="5.3" fill="#000"/>
<circle cx="1115.88" cy="716.25" r="5.3" fill="#000"/>
<circle cx="1122.88" cy="720.25" r="5.3" fill="#000"/>
<circle cx="1114.88" cy="726.25" r="5.3" fill="#000"/>
<circle cx="1115.88" cy="732.25" r="5.3" fill="#000"/>
<text x="956.75" y="733.3" font-size="25.5" text-anchor="middle">NS</text>
<text x="1037.5" y="726.55" font-size="25.5" text-anchor="middle">NS</text>
<text x="1092.59 1107.07 1121.55 1136.04" y="700.7" font-size="22.3" stroke="#000" stroke-width="0.15" transform="matrix(0.87 0 0 1 145.66 0)">####</text>
<polyline points="961.75,700.7 961.75,693.2 1040,693.2 1040,700.7" fill="none" stroke="#000" stroke-width="2.85" stroke-linecap="round" stroke-linejoin="round"/>
<text x="1000" y="685.3" font-size="25.5" text-anchor="middle">NS</text>
<polyline points="961.75,664.45 961.75,656.95 1117.5,656.95 1117.5,664.45" fill="none" stroke="#000" stroke-width="2.85" stroke-linecap="round" stroke-linejoin="round"/>
<polyline points="1039.5,674.45 1039.5,666.95 1117.5,666.95 1117.5,674.45" fill="none" stroke="#000" stroke-width="2.85" stroke-linecap="round" stroke-linejoin="round"/>
<text x="1010.02 1026.6 1043.17 1059.74" y="661.95" font-size="36.5" stroke="#000" stroke-width="0.45" transform="matrix(1.056 0 0 1 -58.35 0)">****</text>
<line x1="1266.25" y1="498.3" x2="1266.25" y2="801.9" stroke="#000" stroke-width="2.8" stroke-linecap="butt"/>
<line x1="1258.75" y1="499.5" x2="1266.25" y2="499.5" stroke="#000" stroke-width="2.8" stroke-linecap="butt"/>
<line x1="1258.75" y1="575" x2="1266.25" y2="575" stroke="#000" stroke-width="2.8" stroke-linecap="butt"/>
<line x1="1258.75" y1="650" x2="1266.25" y2="650" stroke="#000" stroke-width="2.8" stroke-linecap="butt"/>
<line x1="1258.75" y1="725" x2="1266.25" y2="725" stroke="#000" stroke-width="2.8" stroke-linecap="butt"/>
<line x1="1258.75" y1="800.5" x2="1266.25" y2="800.5" stroke="#000" stroke-width="2.8" stroke-linecap="butt"/>
<line x1="1257.5" y1="800.5" x2="1577.5" y2="800.5" stroke="#000" stroke-width="2.8" stroke-linecap="butt"/>
<line x1="1300.5" y1="800.5" x2="1300.5" y2="809" stroke="#000" stroke-width="2.8" stroke-linecap="butt"/>
<text x="1300.5" y="843.8" font-size="29.5" text-anchor="middle">PBS</text>
<line x1="1380.5" y1="800.5" x2="1380.5" y2="809" stroke="#000" stroke-width="2.8" stroke-linecap="butt"/>
<text x="1381.7" y="843.8" font-size="29.5" text-anchor="middle" font-style="italic">Ms</text>
<line x1="1460.5" y1="800.5" x2="1460.5" y2="809" stroke="#000" stroke-width="2.8" stroke-linecap="butt"/>
<text x="1461.7" y="843.8" font-size="29.5" text-anchor="middle" font-style="italic">Nb</text>
<line x1="1540.5" y1="800.5" x2="1540.5" y2="809" stroke="#000" stroke-width="2.8" stroke-linecap="butt"/>
<text x="1541.7" y="843.8" font-size="29.5" text-anchor="middle" font-style="italic">Ca</text>
<rect x="1276.9" y="759.65" width="17.2" height="40.85" fill="#fff" stroke="#000" stroke-width="2.8"/>
<line x1="1285.5" y1="754.25" x2="1285.5" y2="762.25" stroke="#000" stroke-width="2.5" stroke-linecap="butt"/>
<line x1="1279" y1="754.25" x2="1292" y2="754.25" stroke="#000" stroke-width="2.5" stroke-linecap="butt"/>
<line x1="1279" y1="762.25" x2="1292" y2="762.25" stroke="#000" stroke-width="2.5" stroke-linecap="butt"/>
<circle cx="1282.5" cy="748.25" r="5.3" fill="#000"/>
<circle cx="1288.5" cy="753.25" r="5.3" fill="#000"/>
<circle cx="1280.5" cy="758.25" r="5.3" fill="#000"/>
<circle cx="1289.5" cy="760.25" r="5.3" fill="#000"/>
<circle cx="1285.5" cy="762.25" r="5.3" fill="#000"/>
<rect x="1357.15" y="745.9" width="17.2" height="54.6" fill="#fff" stroke="#000" stroke-width="2.8"/>
<line x1="1365.75" y1="742" x2="1365.75" y2="747" stroke="#000" stroke-width="2.5" stroke-linecap="butt"/>
<line x1="1359.25" y1="742" x2="1372.25" y2="742" stroke="#000" stroke-width="2.5" stroke-linecap="butt"/>
<circle cx="1360.75" cy="744.5" r="5.3" fill="#000"/>
<circle cx="1365.75" cy="743.5" r="5.3" fill="#000"/>
<circle cx="1370.75" cy="744.5" r="5.3" fill="#000"/>
<circle cx="1362.75" cy="745.5" r="5.3" fill="#000"/>
<circle cx="1368.75" cy="745.5" r="5.3" fill="#000"/>
<rect x="1388.15" y="676.9" width="16.2" height="123.6" fill="#3fae1c" stroke="#000" stroke-width="2.8"/>
<line x1="1396.25" y1="664.5" x2="1396.25" y2="680.5" stroke="#000" stroke-width="2.5" stroke-linecap="butt"/>
<line x1="1389.75" y1="664.5" x2="1402.75" y2="664.5" stroke="#000" stroke-width="2.5" stroke-linecap="butt"/>
<line x1="1389.75" y1="680.5" x2="1402.75" y2="680.5" stroke="#000" stroke-width="2.5" stroke-linecap="butt"/>
<rect x="1391" y="651.25" width="10.5" height="10.5" fill="#000"/>
<rect x="1386" y="671.25" width="10.5" height="10.5" fill="#000"/>
<rect x="1396" y="671.25" width="10.5" height="10.5" fill="#000"/>
<rect x="1388" y="676.25" width="10.5" height="10.5" fill="#000"/>
<rect x="1394" y="676.25" width="10.5" height="10.5" fill="#000"/>
<rect x="1437.65" y="738.9" width="17.2" height="61.6" fill="#fff" stroke="#000" stroke-width="2.8"/>
<line x1="1446.25" y1="732.5" x2="1446.25" y2="743.5" stroke="#000" stroke-width="2.5" stroke-linecap="butt"/>
<line x1="1439.75" y1="732.5" x2="1452.75" y2="732.5" stroke="#000" stroke-width="2.5" stroke-linecap="butt"/>
<line x1="1439.75" y1="743.5" x2="1452.75" y2="743.5" stroke="#000" stroke-width="2.5" stroke-linecap="butt"/>
<circle cx="1446.25" cy="725.5" r="5.3" fill="#000"/>
<circle cx="1442.25" cy="738.5" r="5.3" fill="#000"/>
<circle cx="1449.25" cy="739.5" r="5.3" fill="#000"/>
<circle cx="1443.25" cy="742.5" r="5.3" fill="#000"/>
<circle cx="1448.25" cy="741.5" r="5.3" fill="#000"/>
<rect x="1468.15" y="639.65" width="16.7" height="160.85" fill="#3fae1c" stroke="#000" stroke-width="2.8"/>
<line x1="1476.5" y1="630.25" x2="1476.5" y2="646.25" stroke="#000" stroke-width="2.5" stroke-linecap="butt"/>
<line x1="1470" y1="630.25" x2="1483" y2="630.25" stroke="#000" stroke-width="2.5" stroke-linecap="butt"/>
<line x1="1470" y1="646.25" x2="1483" y2="646.25" stroke="#000" stroke-width="2.5" stroke-linecap="butt"/>
<rect x="1471.25" y="618" width="10.5" height="10.5" fill="#000"/>
<rect x="1466.25" y="635" width="10.5" height="10.5" fill="#000"/>
<rect x="1476.25" y="635" width="10.5" height="10.5" fill="#000"/>
<rect x="1471.25" y="645" width="10.5" height="10.5" fill="#000"/>
<rect x="1469.25" y="637" width="10.5" height="10.5" fill="#000"/>
<rect x="1517.65" y="680.15" width="16.7" height="120.35" fill="#fff" stroke="#000" stroke-width="2.8"/>
<line x1="1526" y1="675.75" x2="1526" y2="681.75" stroke="#000" stroke-width="2.5" stroke-linecap="butt"/>
<line x1="1519.5" y1="675.75" x2="1532.5" y2="675.75" stroke="#000" stroke-width="2.5" stroke-linecap="butt"/>
<circle cx="1521" cy="672.75" r="5.3" fill="#000"/>
<circle cx="1531" cy="675.75" r="5.3" fill="#000"/>
<circle cx="1524" cy="677.75" r="5.3" fill="#000"/>
<circle cx="1522" cy="688.75" r="5.3" fill="#000"/>
<circle cx="1529" cy="681.75" r="5.3" fill="#000"/>
<rect x="1547.4" y="567.4" width="17.7" height="233.1" fill="#3fae1c" stroke="#000" stroke-width="2.8"/>
<line x1="1556.25" y1="549" x2="1556.25" y2="585" stroke="#000" stroke-width="2.5" stroke-linecap="butt"/>
<line x1="1549.75" y1="549" x2="1562.75" y2="549" stroke="#000" stroke-width="2.5" stroke-linecap="butt"/>
<line x1="1549.75" y1="585" x2="1562.75" y2="585" stroke="#000" stroke-width="2.5" stroke-linecap="butt"/>
<rect x="1551" y="541.75" width="10.5" height="10.5" fill="#000"/>
<rect x="1546" y="558.75" width="10.5" height="10.5" fill="#000"/>
<rect x="1556" y="558.75" width="10.5" height="10.5" fill="#000"/>
<rect x="1551" y="585.75" width="10.5" height="10.5" fill="#000"/>
<rect x="1549" y="561.75" width="10.5" height="10.5" fill="#000"/>
<text x="1360" y="730.3" font-size="25.5" text-anchor="middle">NS</text>
<text x="1367.52 1384.1 1400.67 1417.24" y="656.2" font-size="36.5" stroke="#000" stroke-width="0.45" transform="matrix(1.056 0 0 1 -78.37 0)">****</text>
<text x="1436.25" y="683.3" font-size="25.5" text-anchor="middle"><tspan font-style="italic">p</tspan> =</text>
<text x="1434.5" y="715.3" font-size="25.5" text-anchor="middle">0.01</text>
<text x="1445.52 1462.1 1478.67 1495.24" y="623.95" font-size="36.5" stroke="#000" stroke-width="0.45" transform="matrix(1.056 0 0 1 -82.74 0)">****</text>
<text x="1491.59 1506.07 1520.55 1535.04" y="664.45" font-size="22.3" stroke="#000" stroke-width="0.15" transform="matrix(0.87 0 0 1 197.53 0)">####</text>
<polyline points="1401.25,583.7 1401.25,575.7 1478.75,575.7 1478.75,583.7" fill="none" stroke="#000" stroke-width="2.85" stroke-linecap="round" stroke-linejoin="round"/>
<text x="1418.31 1434.88 1451.45" y="583.2" font-size="36.5" stroke="#000" stroke-width="0.45" transform="matrix(1.056 0 0 1 -80.75 0)">***</text>
<polyline points="1401.25,529.45 1401.25,521.95 1555.75,521.95 1555.75,529.45" fill="none" stroke="#000" stroke-width="2.85" stroke-linecap="round" stroke-linejoin="round"/>
<polyline points="1478.25,535.7 1478.25,528.2 1555.75,528.2 1555.75,535.7" fill="none" stroke="#000" stroke-width="2.85" stroke-linecap="round" stroke-linejoin="round"/>
<text x="1441.77 1458.35 1474.92 1491.49" y="528.2" font-size="36.5" stroke="#000" stroke-width="0.45" transform="matrix(1.056 0 0 1 -82.53 0)">****</text>
<line x1="1643.25" y1="498.3" x2="1643.25" y2="801.9" stroke="#000" stroke-width="2.8" stroke-linecap="butt"/>
<line x1="1635.75" y1="499.5" x2="1643.25" y2="499.5" stroke="#000" stroke-width="2.8" stroke-linecap="butt"/>
<text x="1622" y="508.45" font-size="29.5" text-anchor="end">20</text>
<line x1="1635.75" y1="575" x2="1643.25" y2="575" stroke="#000" stroke-width="2.8" stroke-linecap="butt"/>
<text x="1622" y="583.95" font-size="29.5" text-anchor="end">15</text>
<line x1="1635.75" y1="650" x2="1643.25" y2="650" stroke="#000" stroke-width="2.8" stroke-linecap="butt"/>
<text x="1622" y="658.95" font-size="29.5" text-anchor="end">10</text>
<line x1="1635.75" y1="725" x2="1643.25" y2="725" stroke="#000" stroke-width="2.8" stroke-linecap="butt"/>
<text x="1622" y="733.95" font-size="29.5" text-anchor="end">5</text>
<line x1="1635.75" y1="800.5" x2="1643.25" y2="800.5" stroke="#000" stroke-width="2.8" stroke-linecap="butt"/>
<text x="1622" y="809.45" font-size="29.5" text-anchor="end">0</text>
<line x1="1635.25" y1="800.5" x2="1954.5" y2="800.5" stroke="#000" stroke-width="2.8" stroke-linecap="butt"/>
<line x1="1677.75" y1="800.5" x2="1677.75" y2="809" stroke="#000" stroke-width="2.8" stroke-linecap="butt"/>
<text x="1677.75" y="843.8" font-size="29.5" text-anchor="middle">PBS</text>
<line x1="1757.75" y1="800.5" x2="1757.75" y2="809" stroke="#000" stroke-width="2.8" stroke-linecap="butt"/>
<text x="1758.95" y="843.8" font-size="29.5" text-anchor="middle" font-style="italic">Ms</text>
<line x1="1837.75" y1="800.5" x2="1837.75" y2="809" stroke="#000" stroke-width="2.8" stroke-linecap="butt"/>
<text x="1838.95" y="843.8" font-size="29.5" text-anchor="middle" font-style="italic">Nb</text>
<line x1="1918.25" y1="800.5" x2="1918.25" y2="809" stroke="#000" stroke-width="2.8" stroke-linecap="butt"/>
<text x="1919.45" y="843.8" font-size="29.5" text-anchor="middle" font-style="italic">Ca</text>
<rect x="1654.65" y="790.9" width="17.2" height="9.6" fill="#fff" stroke="#000" stroke-width="2.8"/>
<line x1="1663.25" y1="787.5" x2="1663.25" y2="791.5" stroke="#000" stroke-width="2.5" stroke-linecap="butt"/>
<line x1="1656.75" y1="787.5" x2="1669.75" y2="787.5" stroke="#000" stroke-width="2.5" stroke-linecap="butt"/>
<circle cx="1659.25" cy="789.5" r="5.3" fill="#000"/>
<circle cx="1663.25" cy="787.5" r="5.3" fill="#000"/>
<circle cx="1667.25" cy="789.5" r="5.3" fill="#000"/>
<circle cx="1661.25" cy="790.5" r="5.3" fill="#000"/>
<circle cx="1666.25" cy="790.5" r="5.3" fill="#000"/>
<rect x="1735.15" y="787.65" width="16.7" height="12.85" fill="#fff" stroke="#000" stroke-width="2.8"/>
<line x1="1743.5" y1="784.25" x2="1743.5" y2="788.25" stroke="#000" stroke-width="2.5" stroke-linecap="butt"/>
<line x1="1737" y1="784.25" x2="1750" y2="784.25" stroke="#000" stroke-width="2.5" stroke-linecap="butt"/>
<circle cx="1739.5" cy="786.25" r="5.3" fill="#000"/>
<circle cx="1743.5" cy="784.25" r="5.3" fill="#000"/>
<circle cx="1747.5" cy="786.25" r="5.3" fill="#000"/>
<circle cx="1741.5" cy="787.25" r="5.3" fill="#000"/>
<circle cx="1746.5" cy="787.25" r="5.3" fill="#000"/>
<rect x="1765.4" y="701.4" width="16.95" height="99.1" fill="#3fae1c" stroke="#000" stroke-width="2.8"/>
<line x1="1773.88" y1="685" x2="1773.88" y2="708" stroke="#000" stroke-width="2.5" stroke-linecap="butt"/>
<line x1="1767.38" y1="685" x2="1780.38" y2="685" stroke="#000" stroke-width="2.5" stroke-linecap="butt"/>
<line x1="1767.38" y1="708" x2="1780.38" y2="708" stroke="#000" stroke-width="2.5" stroke-linecap="butt"/>
<rect x="1769.62" y="671.75" width="10.5" height="10.5" fill="#000"/>
<rect x="1763.62" y="690.75" width="10.5" height="10.5" fill="#000"/>
<rect x="1773.62" y="697.75" width="10.5" height="10.5" fill="#000"/>
<rect x="1765.62" y="704.75" width="10.5" height="10.5" fill="#000"/>
<rect x="1772.62" y="702.75" width="10.5" height="10.5" fill="#000"/>
<rect x="1815.15" y="780.15" width="17.2" height="20.35" fill="#fff" stroke="#000" stroke-width="2.8"/>
<line x1="1823.75" y1="773.75" x2="1823.75" y2="783.75" stroke="#000" stroke-width="2.5" stroke-linecap="butt"/>
<line x1="1817.25" y1="773.75" x2="1830.25" y2="773.75" stroke="#000" stroke-width="2.5" stroke-linecap="butt"/>
<line x1="1817.25" y1="783.75" x2="1830.25" y2="783.75" stroke="#000" stroke-width="2.5" stroke-linecap="butt"/>
<circle cx="1823.75" cy="768.75" r="5.3" fill="#000"/>
<circle cx="1819.75" cy="778.75" r="5.3" fill="#000"/>
<circle cx="1827.75" cy="776.75" r="5.3" fill="#000"/>
<circle cx="1820.75" cy="781.75" r="5.3" fill="#000"/>
<circle cx="1826.75" cy="780.75" r="5.3" fill="#000"/>
<rect x="1845.4" y="710.15" width="16.95" height="90.35" fill="#3fae1c" stroke="#000" stroke-width="2.8"/>
<line x1="1853.88" y1="696.75" x2="1853.88" y2="718.75" stroke="#000" stroke-width="2.5" stroke-linecap="butt"/>
<line x1="1847.38" y1="696.75" x2="1860.38" y2="696.75" stroke="#000" stroke-width="2.5" stroke-linecap="butt"/>
<line x1="1847.38" y1="718.75" x2="1860.38" y2="718.75" stroke="#000" stroke-width="2.5" stroke-linecap="butt"/>
<rect x="1848.62" y="685.5" width="10.5" height="10.5" fill="#000"/>
<rect x="1848.62" y="699.5" width="10.5" height="10.5" fill="#000"/>
<rect x="1843.62" y="715.5" width="10.5" height="10.5" fill="#000"/>
<rect x="1853.62" y="711.5" width="10.5" height="10.5" fill="#000"/>
<rect x="1846.62" y="713.5" width="10.5" height="10.5" fill="#000"/>
<rect x="1895.4" y="753.4" width="16.95" height="47.1" fill="#fff" stroke="#000" stroke-width="2.8"/>
<line x1="1903.88" y1="748" x2="1903.88" y2="756" stroke="#000" stroke-width="2.5" stroke-linecap="butt"/>
<line x1="1897.38" y1="748" x2="1910.38" y2="748" stroke="#000" stroke-width="2.5" stroke-linecap="butt"/>
<line x1="1897.38" y1="756" x2="1910.38" y2="756" stroke="#000" stroke-width="2.5" stroke-linecap="butt"/>
<circle cx="1901.88" cy="743" r="5.3" fill="#000"/>
<circle cx="1907.88" cy="749" r="5.3" fill="#000"/>
<circle cx="1899.88" cy="754" r="5.3" fill="#000"/>
<circle cx="1906.88" cy="757" r="5.3" fill="#000"/>
<circle cx="1903.88" cy="755" r="5.3" fill="#000"/>
<rect x="1925.9" y="575.9" width="16.45" height="224.6" fill="#3fae1c" stroke="#000" stroke-width="2.8"/>
<line x1="1934.12" y1="559.5" x2="1934.12" y2="593.5" stroke="#000" stroke-width="2.5" stroke-linecap="butt"/>
<line x1="1927.62" y1="559.5" x2="1940.62" y2="559.5" stroke="#000" stroke-width="2.5" stroke-linecap="butt"/>
<line x1="1927.62" y1="593.5" x2="1940.62" y2="593.5" stroke="#000" stroke-width="2.5" stroke-linecap="butt"/>
<rect x="1924.88" y="555.25" width="10.5" height="10.5" fill="#000"/>
<rect x="1933.88" y="561.25" width="10.5" height="10.5" fill="#000"/>
<rect x="1930.88" y="563.25" width="10.5" height="10.5" fill="#000"/>
<rect x="1928.88" y="599.25" width="10.5" height="10.5" fill="#000"/>
<rect x="1925.88" y="579.25" width="10.5" height="10.5" fill="#000"/>
<text x="1739" y="770.3" font-size="25.5" text-anchor="middle">NS</text>
<text x="1744.52 1761.1 1777.67 1794.24" y="676.45" font-size="36.5" stroke="#000" stroke-width="0.45" transform="matrix(1.056 0 0 1 -99.48 0)">****</text>
<text x="1818.75" y="761.55" font-size="25.5" text-anchor="middle">NS</text>
<text x="1825.77 1842.35 1858.92 1875.49" y="688.2" font-size="36.5" stroke="#000" stroke-width="0.45" transform="matrix(1.056 0 0 1 -104.03 0)">****</text>
<text x="1881.13 1894.92 1908.72" y="733.7" font-size="21" stroke="#000" stroke-width="0.15" transform="matrix(0.87 0 0 1 247.1 0)">###</text>
<polyline points="1782,638.7 1782,630.7 1860,630.7 1860,638.7" fill="none" stroke="#000" stroke-width="2.85" stroke-linecap="round" stroke-linejoin="round"/>
<text x="1819.5" y="625.8" font-size="25.5" text-anchor="middle">NS</text>
<polyline points="1782,538.7 1782,531.2 1937.75,531.2 1937.75,538.7" fill="none" stroke="#000" stroke-width="2.85" stroke-linecap="round" stroke-linejoin="round"/>
<polyline points="1859.5,545.7 1859.5,538.2 1937.75,538.2 1937.75,545.7" fill="none" stroke="#000" stroke-width="2.85" stroke-linecap="round" stroke-linejoin="round"/>
<text x="1827.52 1844.1 1860.67 1877.24" y="537.7" font-size="36.5" stroke="#000" stroke-width="0.45" transform="matrix(1.056 0 0 1 -104.13 0)">****</text>
<text x="-0.6" y="939.4" font-size="43" text-anchor="start" font-weight="bold">c</text>
<text transform="translate(52.8,1089.5) rotate(-90)" font-size="29.5" text-anchor="middle">PDL2 MFI (x10<tspan font-size="18.29" dy="-11.21">3</tspan><tspan dy="11.21">)</tspan></text>
<line x1="117.5" y1="948.8" x2="117.5" y2="1231.4" stroke="#000" stroke-width="2.8" stroke-linecap="butt"/>
<line x1="110" y1="950" x2="117.5" y2="950" stroke="#000" stroke-width="2.8" stroke-linecap="butt"/>
<text x="97.3" y="958.95" font-size="29.5" text-anchor="end">5</text>
<line x1="110" y1="1004.5" x2="117.5" y2="1004.5" stroke="#000" stroke-width="2.8" stroke-linecap="butt"/>
<text x="97.3" y="1013.45" font-size="29.5" text-anchor="end">4</text>
<line x1="110" y1="1058.75" x2="117.5" y2="1058.75" stroke="#000" stroke-width="2.8" stroke-linecap="butt"/>
<text x="97.3" y="1067.7" font-size="29.5" text-anchor="end">3</text>
<line x1="110" y1="1113" x2="117.5" y2="1113" stroke="#000" stroke-width="2.8" stroke-linecap="butt"/>
<text x="97.3" y="1121.95" font-size="29.5" text-anchor="end">2</text>
<line x1="110" y1="1167.5" x2="117.5" y2="1167.5" stroke="#000" stroke-width="2.8" stroke-linecap="butt"/>
<text x="97.3" y="1176.45" font-size="29.5" text-anchor="end">1</text>
<line x1="110" y1="1221.75" x2="117.5" y2="1221.75" stroke="#000" stroke-width="2.8" stroke-linecap="butt"/>
<text x="97.3" y="1230.7" font-size="29.5" text-anchor="end">0</text>
<line x1="117.5" y1="1230" x2="430" y2="1230" stroke="#000" stroke-width="2.8" stroke-linecap="butt"/>
<line x1="152.5" y1="1230" x2="152.5" y2="1238.5" stroke="#000" stroke-width="2.8" stroke-linecap="butt"/>
<text x="152.5" y="1272.05" font-size="29.5" text-anchor="middle">PBS</text>
<line x1="233" y1="1230" x2="233" y2="1238.5" stroke="#000" stroke-width="2.8" stroke-linecap="butt"/>
<text x="234.2" y="1272.05" font-size="29.5" text-anchor="middle" font-style="italic">Ms</text>
<line x1="313" y1="1230" x2="313" y2="1238.5" stroke="#000" stroke-width="2.8" stroke-linecap="butt"/>
<text x="314.2" y="1272.05" font-size="29.5" text-anchor="middle" font-style="italic">Nb</text>
<line x1="393.75" y1="1230" x2="393.75" y2="1238.5" stroke="#000" stroke-width="2.8" stroke-linecap="butt"/>
<text x="394.95" y="1272.05" font-size="29.5" text-anchor="middle" font-style="italic">Ca</text>
<line x1="119" y1="1221.75" x2="430" y2="1221.75" stroke="#000" stroke-width="2.6" stroke-dasharray="2.6 4.4"/>
<rect x="132.3" y="963.6" width="21" height="21" fill="#fff" stroke="#000" stroke-width="2.7"/>
<rect x="132.3" y="998.6" width="21" height="21" fill="#3fae1c" stroke="#000" stroke-width="2.7"/>
<text x="168" y="982.8" font-size="29.5" text-anchor="start">Ag–</text>
<text x="168" y="1017.8" font-size="29.5" text-anchor="start">Ag+</text>
<text x="271.25" y="1190.3" font-size="25" text-anchor="middle">Not detectable</text>
<circle cx="133" cy="1225" r="5" fill="#000"/>
<circle cx="137" cy="1224" r="5" fill="#000"/>
<circle cx="141" cy="1225" r="5" fill="#000"/>
<circle cx="145" cy="1224" r="5" fill="#000"/>
<circle cx="139" cy="1227" r="5" fill="#000"/>
<circle cx="213" cy="1225" r="5" fill="#000"/>
<circle cx="217" cy="1224" r="5" fill="#000"/>
<circle cx="221" cy="1225" r="5" fill="#000"/>
<circle cx="225" cy="1224" r="5" fill="#000"/>
<circle cx="219" cy="1227" r="5" fill="#000"/>
<circle cx="293" cy="1225" r="5" fill="#000"/>
<circle cx="297" cy="1224" r="5" fill="#000"/>
<circle cx="301" cy="1225" r="5" fill="#000"/>
<circle cx="305" cy="1224" r="5" fill="#000"/>
<circle cx="299" cy="1227" r="5" fill="#000"/>
<circle cx="373" cy="1225" r="5" fill="#000"/>
<circle cx="377" cy="1224" r="5" fill="#000"/>
<circle cx="381" cy="1225" r="5" fill="#000"/>
<circle cx="385" cy="1224" r="5" fill="#000"/>
<circle cx="379" cy="1227" r="5" fill="#000"/>
<line x1="499.5" y1="938.05" x2="499.5" y2="1231.4" stroke="#000" stroke-width="2.8" stroke-linecap="butt"/>
<line x1="492" y1="939.25" x2="499.5" y2="939.25" stroke="#000" stroke-width="2.8" stroke-linecap="butt"/>
<text x="473.75" y="948.2" font-size="29.5" text-anchor="end">5</text>
<line x1="492" y1="997.5" x2="499.5" y2="997.5" stroke="#000" stroke-width="2.8" stroke-linecap="butt"/>
<text x="473.75" y="1006.45" font-size="29.5" text-anchor="end">4</text>
<line x1="492" y1="1055.5" x2="499.5" y2="1055.5" stroke="#000" stroke-width="2.8" stroke-linecap="butt"/>
<text x="473.75" y="1064.45" font-size="29.5" text-anchor="end">3</text>
<line x1="492" y1="1113.75" x2="499.5" y2="1113.75" stroke="#000" stroke-width="2.8" stroke-linecap="butt"/>
<text x="473.75" y="1122.7" font-size="29.5" text-anchor="end">2</text>
<line x1="492" y1="1171.75" x2="499.5" y2="1171.75" stroke="#000" stroke-width="2.8" stroke-linecap="butt"/>
<text x="473.75" y="1180.7" font-size="29.5" text-anchor="end">1</text>
<line x1="492" y1="1230" x2="499.5" y2="1230" stroke="#000" stroke-width="2.8" stroke-linecap="butt"/>
<text x="473.75" y="1238.95" font-size="29.5" text-anchor="end">0</text>
<line x1="491.25" y1="1230" x2="810.75" y2="1230" stroke="#000" stroke-width="2.8" stroke-linecap="butt"/>
<line x1="534.25" y1="1230" x2="534.25" y2="1238.5" stroke="#000" stroke-width="2.8" stroke-linecap="butt"/>
<text x="534.25" y="1272.05" font-size="29.5" text-anchor="middle">PBS</text>
<line x1="614.25" y1="1230" x2="614.25" y2="1238.5" stroke="#000" stroke-width="2.8" stroke-linecap="butt"/>
<text x="615.45" y="1272.05" font-size="29.5" text-anchor="middle" font-style="italic">Ms</text>
<line x1="694.25" y1="1230" x2="694.25" y2="1238.5" stroke="#000" stroke-width="2.8" stroke-linecap="butt"/>
<text x="695.45" y="1272.05" font-size="29.5" text-anchor="middle" font-style="italic">Nb</text>
<line x1="774.5" y1="1230" x2="774.5" y2="1238.5" stroke="#000" stroke-width="2.8" stroke-linecap="butt"/>
<text x="775.7" y="1272.05" font-size="29.5" text-anchor="middle" font-style="italic">Ca</text>
<rect x="510.9" y="1227.4" width="17.2" height="2.6" fill="#fff" stroke="#000" stroke-width="2.8"/>
<line x1="519.5" y1="1224" x2="519.5" y2="1228" stroke="#000" stroke-width="2.5" stroke-linecap="butt"/>
<line x1="513" y1="1224" x2="526" y2="1224" stroke="#000" stroke-width="2.5" stroke-linecap="butt"/>
<circle cx="515.5" cy="1225" r="5.3" fill="#000"/>
<circle cx="519.5" cy="1223" r="5.3" fill="#000"/>
<circle cx="523.5" cy="1225" r="5.3" fill="#000"/>
<circle cx="517.5" cy="1227" r="5.3" fill="#000"/>
<circle cx="522.5" cy="1226" r="5.3" fill="#000"/>
<rect x="591.4" y="1221.4" width="16.7" height="8.6" fill="#fff" stroke="#000" stroke-width="2.8"/>
<line x1="599.75" y1="1217" x2="599.75" y2="1223" stroke="#000" stroke-width="2.5" stroke-linecap="butt"/>
<line x1="593.25" y1="1217" x2="606.25" y2="1217" stroke="#000" stroke-width="2.5" stroke-linecap="butt"/>
<circle cx="596.75" cy="1216" r="5.3" fill="#000"/>
<circle cx="603.75" cy="1216" r="5.3" fill="#000"/>
<circle cx="598.75" cy="1220" r="5.3" fill="#000"/>
<circle cx="602.75" cy="1221" r="5.3" fill="#000"/>
<circle cx="595.75" cy="1222" r="5.3" fill="#000"/>
<rect x="671.4" y="1220.4" width="17.2" height="9.6" fill="#fff" stroke="#000" stroke-width="2.8"/>
<line x1="680" y1="1215" x2="680" y2="1223" stroke="#000" stroke-width="2.5" stroke-linecap="butt"/>
<line x1="673.5" y1="1215" x2="686.5" y2="1215" stroke="#000" stroke-width="2.5" stroke-linecap="butt"/>
<line x1="673.5" y1="1223" x2="686.5" y2="1223" stroke="#000" stroke-width="2.5" stroke-linecap="butt"/>
<circle cx="678" cy="1206" r="5.3" fill="#000"/>
<circle cx="684" cy="1216" r="5.3" fill="#000"/>
<circle cx="676" cy="1220" r="5.3" fill="#000"/>
<circle cx="683" cy="1221" r="5.3" fill="#000"/>
<circle cx="680" cy="1222" r="5.3" fill="#000"/>
<rect x="751.4" y="1213.9" width="16.7" height="16.1" fill="#fff" stroke="#000" stroke-width="2.8"/>
<line x1="759.75" y1="1207.5" x2="759.75" y2="1217.5" stroke="#000" stroke-width="2.5" stroke-linecap="butt"/>
<line x1="753.25" y1="1207.5" x2="766.25" y2="1207.5" stroke="#000" stroke-width="2.5" stroke-linecap="butt"/>
<line x1="753.25" y1="1217.5" x2="766.25" y2="1217.5" stroke="#000" stroke-width="2.5" stroke-linecap="butt"/>
<circle cx="757.75" cy="1197.5" r="5.3" fill="#000"/>
<circle cx="762.75" cy="1204.5" r="5.3" fill="#000"/>
<circle cx="755.75" cy="1213.5" r="5.3" fill="#000"/>
<circle cx="762.75" cy="1214.5" r="5.3" fill="#000"/>
<circle cx="759.75" cy="1217.5" r="5.3" fill="#000"/>
<text x="607.5" y="1198.8" font-size="25.5" text-anchor="middle">NS</text>
<text x="685.5" y="1198.8" font-size="25.5" text-anchor="middle">NS</text>
<text x="742.38 756.17 769.97" y="1190.7" font-size="21" stroke="#000" stroke-width="0.15" transform="matrix(0.87 0 0 1 99.06 0)">###</text>
<polyline points="607.5,1166.2 607.5,1158.7 683.75,1158.7 683.75,1166.2" fill="none" stroke="#000" stroke-width="2.85" stroke-linecap="round" stroke-linejoin="round"/>
<text x="646.25" y="1151.3" font-size="25.5" text-anchor="middle">NS</text>
<polyline points="683.75,1153.2 683.75,1145.7 760,1145.7 760,1153.2" fill="none" stroke="#000" stroke-width="2.85" stroke-linecap="round" stroke-linejoin="round"/>
<text x="722" y="1141.3" font-size="25.5" text-anchor="middle">NS</text>
<polyline points="607.5,1120.7 607.5,1113.2 760,1113.2 760,1120.7" fill="none" stroke="#000" stroke-width="2.85" stroke-linecap="round" stroke-linejoin="round"/>
<text x="680" y="1106.3" font-size="25.5" text-anchor="middle">NS</text>
<line x1="860.5" y1="938.05" x2="860.5" y2="1231.4" stroke="#000" stroke-width="2.8" stroke-linecap="butt"/>
<line x1="853" y1="939.25" x2="860.5" y2="939.25" stroke="#000" stroke-width="2.8" stroke-linecap="butt"/>
<line x1="853" y1="997.5" x2="860.5" y2="997.5" stroke="#000" stroke-width="2.8" stroke-linecap="butt"/>
<line x1="853" y1="1055.5" x2="860.5" y2="1055.5" stroke="#000" stroke-width="2.8" stroke-linecap="butt"/>
<line x1="853" y1="1113.75" x2="860.5" y2="1113.75" stroke="#000" stroke-width="2.8" stroke-linecap="butt"/>
<line x1="853" y1="1171.75" x2="860.5" y2="1171.75" stroke="#000" stroke-width="2.8" stroke-linecap="butt"/>
<line x1="853" y1="1230" x2="860.5" y2="1230" stroke="#000" stroke-width="2.8" stroke-linecap="butt"/>
<line x1="852.5" y1="1230" x2="1171.75" y2="1230" stroke="#000" stroke-width="2.8" stroke-linecap="butt"/>
<line x1="895" y1="1230" x2="895" y2="1238.5" stroke="#000" stroke-width="2.8" stroke-linecap="butt"/>
<text x="895" y="1272.05" font-size="29.5" text-anchor="middle">PBS</text>
<line x1="975.5" y1="1230" x2="975.5" y2="1238.5" stroke="#000" stroke-width="2.8" stroke-linecap="butt"/>
<text x="976.7" y="1272.05" font-size="29.5" text-anchor="middle" font-style="italic">Ms</text>
<line x1="1055.5" y1="1230" x2="1055.5" y2="1238.5" stroke="#000" stroke-width="2.8" stroke-linecap="butt"/>
<text x="1056.7" y="1272.05" font-size="29.5" text-anchor="middle" font-style="italic">Nb</text>
<line x1="1135.5" y1="1230" x2="1135.5" y2="1238.5" stroke="#000" stroke-width="2.8" stroke-linecap="butt"/>
<text x="1136.7" y="1272.05" font-size="29.5" text-anchor="middle" font-style="italic">Ca</text>
<rect x="872.15" y="1222.4" width="16.45" height="7.6" fill="#fff" stroke="#000" stroke-width="2.8"/>
<line x1="880.38" y1="1219" x2="880.38" y2="1223" stroke="#000" stroke-width="2.5" stroke-linecap="butt"/>
<line x1="873.88" y1="1219" x2="886.88" y2="1219" stroke="#000" stroke-width="2.5" stroke-linecap="butt"/>
<circle cx="876.38" cy="1220" r="5.3" fill="#000"/>
<circle cx="880.38" cy="1218" r="5.3" fill="#000"/>
<circle cx="884.38" cy="1220" r="5.3" fill="#000"/>
<circle cx="878.38" cy="1222" r="5.3" fill="#000"/>
<circle cx="883.38" cy="1221" r="5.3" fill="#000"/>
<rect x="952.15" y="1195.15" width="17.2" height="34.85" fill="#fff" stroke="#000" stroke-width="2.8"/>
<line x1="960.75" y1="1182.75" x2="960.75" y2="1199.75" stroke="#000" stroke-width="2.5" stroke-linecap="butt"/>
<line x1="954.25" y1="1182.75" x2="967.25" y2="1182.75" stroke="#000" stroke-width="2.5" stroke-linecap="butt"/>
<line x1="954.25" y1="1199.75" x2="967.25" y2="1199.75" stroke="#000" stroke-width="2.5" stroke-linecap="butt"/>
<circle cx="961.75" cy="1173.75" r="5.3" fill="#000"/>
<circle cx="956.75" cy="1188.75" r="5.3" fill="#000"/>
<circle cx="964.75" cy="1196.75" r="5.3" fill="#000"/>
<circle cx="957.75" cy="1201.75" r="5.3" fill="#000"/>
<circle cx="962.75" cy="1199.75" r="5.3" fill="#000"/>
<rect x="1032.65" y="1217.4" width="16.7" height="12.6" fill="#fff" stroke="#000" stroke-width="2.8"/>
<line x1="1041" y1="1213" x2="1041" y2="1219" stroke="#000" stroke-width="2.5" stroke-linecap="butt"/>
<line x1="1034.5" y1="1213" x2="1047.5" y2="1213" stroke="#000" stroke-width="2.5" stroke-linecap="butt"/>
<circle cx="1039" cy="1212" r="5.3" fill="#000"/>
<circle cx="1044" cy="1214" r="5.3" fill="#000"/>
<circle cx="1037" cy="1217" r="5.3" fill="#000"/>
<circle cx="1045" cy="1216" r="5.3" fill="#000"/>
<circle cx="1041" cy="1218" r="5.3" fill="#000"/>
<rect x="1112.65" y="1137.65" width="16.7" height="92.35" fill="#fff" stroke="#000" stroke-width="2.8"/>
<line x1="1121" y1="1102.25" x2="1121" y2="1172.25" stroke="#000" stroke-width="2.5" stroke-linecap="butt"/>
<line x1="1114.5" y1="1102.25" x2="1127.5" y2="1102.25" stroke="#000" stroke-width="2.5" stroke-linecap="butt"/>
<line x1="1114.5" y1="1172.25" x2="1127.5" y2="1172.25" stroke="#000" stroke-width="2.5" stroke-linecap="butt"/>
<circle cx="1117" cy="1102.25" r="5.3" fill="#000"/>
<circle cx="1125" cy="1102.25" r="5.3" fill="#000"/>
<circle cx="1121" cy="1128.75" r="5.3" fill="#000"/>
<circle cx="1121" cy="1166.25" r="5.3" fill="#000"/>
<circle cx="1121" cy="1179.75" r="5.3" fill="#000"/>
<text x="963.75" y="1163.3" font-size="25.5" text-anchor="middle">NS</text>
<text x="1041.75" y="1202.05" font-size="25.5" text-anchor="middle">NS</text>
<text x="1093.34 1107.82 1122.3 1136.79" y="1092.45" font-size="22.3" stroke="#000" stroke-width="0.15" transform="matrix(0.87 0 0 1 145.76 0)">####</text>
<polyline points="965.5,1135.45 965.5,1127.45 1044.25,1127.45 1044.25,1135.45" fill="none" stroke="#000" stroke-width="2.85" stroke-linecap="round" stroke-linejoin="round"/>
<text x="1004.25" y="1123.3" font-size="25.5" text-anchor="middle">NS</text>
<polyline points="1044.25,1072.95 1044.25,1064.45 1126.25,1064.45 1126.25,1072.95" fill="none" stroke="#000" stroke-width="2.85" stroke-linecap="round" stroke-linejoin="round"/>
<text x="1052.52 1069.1 1085.67 1102.24" y="1071.95" font-size="36.5" stroke="#000" stroke-width="0.45" transform="matrix(1.056 0 0 1 -60.73 0)">****</text>
<polyline points="965.5,1051.7 965.5,1043.2 1126.25,1043.2 1126.25,1051.7" fill="none" stroke="#000" stroke-width="2.85" stroke-linecap="round" stroke-linejoin="round"/>
<text x="1023.31 1039.88 1056.45" y="1050.2" font-size="36.5" stroke="#000" stroke-width="0.45" transform="matrix(1.056 0 0 1 -58.63 0)">***</text>
<line x1="1257.5" y1="938.05" x2="1257.5" y2="1231.4" stroke="#000" stroke-width="2.8" stroke-linecap="butt"/>
<line x1="1250" y1="939.25" x2="1257.5" y2="939.25" stroke="#000" stroke-width="2.8" stroke-linecap="butt"/>
<text x="1234.5" y="948.2" font-size="29.5" text-anchor="end">15</text>
<line x1="1250" y1="1036.25" x2="1257.5" y2="1036.25" stroke="#000" stroke-width="2.8" stroke-linecap="butt"/>
<text x="1234.5" y="1045.2" font-size="29.5" text-anchor="end">10</text>
<line x1="1250" y1="1133" x2="1257.5" y2="1133" stroke="#000" stroke-width="2.8" stroke-linecap="butt"/>
<text x="1234.5" y="1141.95" font-size="29.5" text-anchor="end">5</text>
<line x1="1250" y1="1230" x2="1257.5" y2="1230" stroke="#000" stroke-width="2.8" stroke-linecap="butt"/>
<text x="1234.5" y="1238.95" font-size="29.5" text-anchor="end">0</text>
<line x1="1249.5" y1="1230" x2="1568.75" y2="1230" stroke="#000" stroke-width="2.8" stroke-linecap="butt"/>
<line x1="1292" y1="1230" x2="1292" y2="1238.5" stroke="#000" stroke-width="2.8" stroke-linecap="butt"/>
<text x="1292" y="1272.05" font-size="29.5" text-anchor="middle">PBS</text>
<line x1="1372.5" y1="1230" x2="1372.5" y2="1238.5" stroke="#000" stroke-width="2.8" stroke-linecap="butt"/>
<text x="1373.7" y="1272.05" font-size="29.5" text-anchor="middle" font-style="italic">Ms</text>
<line x1="1452.5" y1="1230" x2="1452.5" y2="1238.5" stroke="#000" stroke-width="2.8" stroke-linecap="butt"/>
<text x="1453.7" y="1272.05" font-size="29.5" text-anchor="middle" font-style="italic">Nb</text>
<line x1="1532.5" y1="1230" x2="1532.5" y2="1238.5" stroke="#000" stroke-width="2.8" stroke-linecap="butt"/>
<text x="1533.7" y="1272.05" font-size="29.5" text-anchor="middle" font-style="italic">Ca</text>
<rect x="1268.9" y="1204.65" width="17.2" height="25.35" fill="#fff" stroke="#000" stroke-width="2.8"/>
<line x1="1277.5" y1="1193.25" x2="1277.5" y2="1213.25" stroke="#000" stroke-width="2.5" stroke-linecap="butt"/>
<line x1="1271" y1="1193.25" x2="1284" y2="1193.25" stroke="#000" stroke-width="2.5" stroke-linecap="butt"/>
<line x1="1271" y1="1213.25" x2="1284" y2="1213.25" stroke="#000" stroke-width="2.5" stroke-linecap="butt"/>
<circle cx="1274.5" cy="1191.25" r="5.3" fill="#000"/>
<circle cx="1280.5" cy="1195.25" r="5.3" fill="#000"/>
<circle cx="1282.5" cy="1197.25" r="5.3" fill="#000"/>
<circle cx="1279.5" cy="1217.25" r="5.3" fill="#000"/>
<circle cx="1275.5" cy="1221.25" r="5.3" fill="#000"/>
<rect x="1348.9" y="1170.15" width="17.2" height="59.85" fill="#fff" stroke="#000" stroke-width="2.8"/>
<line x1="1357.5" y1="1160.75" x2="1357.5" y2="1176.75" stroke="#000" stroke-width="2.5" stroke-linecap="butt"/>
<line x1="1351" y1="1160.75" x2="1364" y2="1160.75" stroke="#000" stroke-width="2.5" stroke-linecap="butt"/>
<line x1="1351" y1="1176.75" x2="1364" y2="1176.75" stroke="#000" stroke-width="2.5" stroke-linecap="butt"/>
<circle cx="1355.5" cy="1158.75" r="5.3" fill="#000"/>
<circle cx="1360.5" cy="1160.75" r="5.3" fill="#000"/>
<circle cx="1363.5" cy="1172.75" r="5.3" fill="#000"/>
<circle cx="1353.5" cy="1180.75" r="5.3" fill="#000"/>
<circle cx="1357.5" cy="1172.75" r="5.3" fill="#000"/>
<rect x="1379.65" y="1095.15" width="15.95" height="134.85" fill="#3fae1c" stroke="#000" stroke-width="2.8"/>
<line x1="1387.62" y1="1053.75" x2="1387.62" y2="1133.75" stroke="#000" stroke-width="2.5" stroke-linecap="butt"/>
<line x1="1381.12" y1="1053.75" x2="1394.12" y2="1053.75" stroke="#000" stroke-width="2.5" stroke-linecap="butt"/>
<line x1="1381.12" y1="1133.75" x2="1394.12" y2="1133.75" stroke="#000" stroke-width="2.5" stroke-linecap="butt"/>
<rect x="1382.38" y="1037.5" width="10.5" height="10.5" fill="#000"/>
<rect x="1382.38" y="1085.5" width="10.5" height="10.5" fill="#000"/>
<rect x="1382.38" y="1106.5" width="10.5" height="10.5" fill="#000"/>
<rect x="1382.38" y="1127.5" width="10.5" height="10.5" fill="#000"/>
<rect x="1382.38" y="1128.5" width="10.5" height="10.5" fill="#000"/>
<rect x="1429.4" y="1200.15" width="17.2" height="29.85" fill="#fff" stroke="#000" stroke-width="2.8"/>
<line x1="1438" y1="1188.75" x2="1438" y2="1208.75" stroke="#000" stroke-width="2.5" stroke-linecap="butt"/>
<line x1="1431.5" y1="1188.75" x2="1444.5" y2="1188.75" stroke="#000" stroke-width="2.5" stroke-linecap="butt"/>
<line x1="1431.5" y1="1208.75" x2="1444.5" y2="1208.75" stroke="#000" stroke-width="2.5" stroke-linecap="butt"/>
<circle cx="1434" cy="1191.75" r="5.3" fill="#000"/>
<circle cx="1442" cy="1192.75" r="5.3" fill="#000"/>
<circle cx="1438" cy="1195.75" r="5.3" fill="#000"/>
<circle cx="1438" cy="1208.75" r="5.3" fill="#000"/>
<circle cx="1438" cy="1215.75" r="5.3" fill="#000"/>
<rect x="1459.65" y="1106.4" width="16.45" height="123.6" fill="#3fae1c" stroke="#000" stroke-width="2.8"/>
<line x1="1467.88" y1="1080" x2="1467.88" y2="1130" stroke="#000" stroke-width="2.5" stroke-linecap="butt"/>
<line x1="1461.38" y1="1080" x2="1474.38" y2="1080" stroke="#000" stroke-width="2.5" stroke-linecap="butt"/>
<line x1="1461.38" y1="1130" x2="1474.38" y2="1130" stroke="#000" stroke-width="2.5" stroke-linecap="butt"/>
<rect x="1462.62" y="1073.75" width="10.5" height="10.5" fill="#000"/>
<rect x="1462.62" y="1086.75" width="10.5" height="10.5" fill="#000"/>
<rect x="1462.62" y="1103.75" width="10.5" height="10.5" fill="#000"/>
<rect x="1462.62" y="1129.75" width="10.5" height="10.5" fill="#000"/>
<rect x="1462.62" y="1131.75" width="10.5" height="10.5" fill="#000"/>
<rect x="1509.4" y="1170.15" width="17.2" height="59.85" fill="#fff" stroke="#000" stroke-width="2.8"/>
<line x1="1518" y1="1165.75" x2="1518" y2="1171.75" stroke="#000" stroke-width="2.5" stroke-linecap="butt"/>
<line x1="1511.5" y1="1165.75" x2="1524.5" y2="1165.75" stroke="#000" stroke-width="2.5" stroke-linecap="butt"/>
<circle cx="1514" cy="1167.75" r="5.3" fill="#000"/>
<circle cx="1518" cy="1165.75" r="5.3" fill="#000"/>
<circle cx="1522" cy="1167.75" r="5.3" fill="#000"/>
<circle cx="1516" cy="1169.75" r="5.3" fill="#000"/>
<circle cx="1522" cy="1170.75" r="5.3" fill="#000"/>
<rect x="1540.15" y="970.15" width="15.95" height="259.85" fill="#3fae1c" stroke="#000" stroke-width="2.8"/>
<line x1="1548.12" y1="949.75" x2="1548.12" y2="989.75" stroke="#000" stroke-width="2.5" stroke-linecap="butt"/>
<line x1="1541.62" y1="949.75" x2="1554.62" y2="949.75" stroke="#000" stroke-width="2.5" stroke-linecap="butt"/>
<line x1="1541.62" y1="989.75" x2="1554.62" y2="989.75" stroke="#000" stroke-width="2.5" stroke-linecap="butt"/>
<rect x="1542.88" y="947.5" width="10.5" height="10.5" fill="#000"/>
<rect x="1539.88" y="958.5" width="10.5" height="10.5" fill="#000"/>
<rect x="1545.88" y="957.5" width="10.5" height="10.5" fill="#000"/>
<rect x="1544.88" y="963.5" width="10.5" height="10.5" fill="#000"/>
<rect x="1542.88" y="999.5" width="10.5" height="10.5" fill="#000"/>
<text x="1351.25" y="1148.8" font-size="25.5" text-anchor="middle">NS</text>
<text x="1363.81 1380.38 1396.95" y="1039.45" font-size="36.5" stroke="#000" stroke-width="0.45" transform="matrix(1.056 0 0 1 -77.7 0)">***</text>
<text x="1432.5" y="1179.05" font-size="25.5" text-anchor="middle">NS</text>
<text x="1440.02 1456.6 1473.17 1489.74" y="1080.2" font-size="36.5" stroke="#000" stroke-width="0.45" transform="matrix(1.056 0 0 1 -82.43 0)">****</text>
<text x="1514.25" y="1157.05" font-size="25.5" text-anchor="middle">NS</text>
<polyline points="1387.5,1006.95 1387.5,998.95 1467,998.95 1467,1006.95" fill="none" stroke="#000" stroke-width="2.85" stroke-linecap="round" stroke-linejoin="round"/>
<text x="1427.5" y="994.55" font-size="25.5" text-anchor="middle">NS</text>
<polyline points="1387.5,941.7 1387.5,932.7 1546.25,932.7 1546.25,941.7" fill="none" stroke="#000" stroke-width="2.85" stroke-linecap="round" stroke-linejoin="round"/>
<polyline points="1465.75,946.95 1465.75,938.95 1546.25,938.95 1546.25,946.95" fill="none" stroke="#000" stroke-width="2.85" stroke-linecap="round" stroke-linejoin="round"/>
<text x="1436.77 1453.35 1469.92 1486.49" y="939.45" font-size="36.5" stroke="#000" stroke-width="0.45" transform="matrix(1.056 0 0 1 -82.25 0)">****</text>
<line x1="1647.5" y1="938.05" x2="1647.5" y2="1231.4" stroke="#000" stroke-width="2.8" stroke-linecap="butt"/>
<line x1="1640" y1="939.25" x2="1647.5" y2="939.25" stroke="#000" stroke-width="2.8" stroke-linecap="butt"/>
<line x1="1640" y1="1036.25" x2="1647.5" y2="1036.25" stroke="#000" stroke-width="2.8" stroke-linecap="butt"/>
<line x1="1640" y1="1133" x2="1647.5" y2="1133" stroke="#000" stroke-width="2.8" stroke-linecap="butt"/>
<line x1="1640" y1="1230" x2="1647.5" y2="1230" stroke="#000" stroke-width="2.8" stroke-linecap="butt"/>
<line x1="1639.5" y1="1230" x2="1959.5" y2="1230" stroke="#000" stroke-width="2.8" stroke-linecap="butt"/>
<line x1="1682" y1="1230" x2="1682" y2="1238.5" stroke="#000" stroke-width="2.8" stroke-linecap="butt"/>
<text x="1682" y="1272.05" font-size="29.5" text-anchor="middle">PBS</text>
<line x1="1762.5" y1="1230" x2="1762.5" y2="1238.5" stroke="#000" stroke-width="2.8" stroke-linecap="butt"/>
<text x="1763.7" y="1272.05" font-size="29.5" text-anchor="middle" font-style="italic">Ms</text>
<line x1="1842.5" y1="1230" x2="1842.5" y2="1238.5" stroke="#000" stroke-width="2.8" stroke-linecap="butt"/>
<text x="1843.7" y="1272.05" font-size="29.5" text-anchor="middle" font-style="italic">Nb</text>
<line x1="1923.25" y1="1230" x2="1923.25" y2="1238.5" stroke="#000" stroke-width="2.8" stroke-linecap="butt"/>
<text x="1924.45" y="1272.05" font-size="29.5" text-anchor="middle" font-style="italic">Ca</text>
<rect x="1659.15" y="1195.15" width="17.7" height="34.85" fill="#fff" stroke="#000" stroke-width="2.8"/>
<line x1="1668" y1="1185.75" x2="1668" y2="1201.75" stroke="#000" stroke-width="2.5" stroke-linecap="butt"/>
<line x1="1661.5" y1="1185.75" x2="1674.5" y2="1185.75" stroke="#000" stroke-width="2.5" stroke-linecap="butt"/>
<line x1="1661.5" y1="1201.75" x2="1674.5" y2="1201.75" stroke="#000" stroke-width="2.5" stroke-linecap="butt"/>
<circle cx="1667" cy="1181.75" r="5.3" fill="#000"/>
<circle cx="1671" cy="1186.75" r="5.3" fill="#000"/>
<circle cx="1672" cy="1188.75" r="5.3" fill="#000"/>
<circle cx="1668" cy="1203.75" r="5.3" fill="#000"/>
<circle cx="1665" cy="1212.75" r="5.3" fill="#000"/>
<rect x="1739.65" y="1157.15" width="17.2" height="72.85" fill="#fff" stroke="#000" stroke-width="2.8"/>
<line x1="1748.25" y1="1152.75" x2="1748.25" y2="1158.75" stroke="#000" stroke-width="2.5" stroke-linecap="butt"/>
<line x1="1741.75" y1="1152.75" x2="1754.75" y2="1152.75" stroke="#000" stroke-width="2.5" stroke-linecap="butt"/>
<circle cx="1744.25" cy="1153.75" r="5.3" fill="#000"/>
<circle cx="1749.25" cy="1151.75" r="5.3" fill="#000"/>
<circle cx="1753.25" cy="1153.75" r="5.3" fill="#000"/>
<circle cx="1745.25" cy="1157.75" r="5.3" fill="#000"/>
<circle cx="1751.25" cy="1157.75" r="5.3" fill="#000"/>
<rect x="1769.65" y="1024.4" width="16.7" height="205.6" fill="#3fae1c" stroke="#000" stroke-width="2.8"/>
<line x1="1778" y1="989" x2="1778" y2="1057" stroke="#000" stroke-width="2.5" stroke-linecap="butt"/>
<line x1="1771.5" y1="989" x2="1784.5" y2="989" stroke="#000" stroke-width="2.5" stroke-linecap="butt"/>
<line x1="1771.5" y1="1057" x2="1784.5" y2="1057" stroke="#000" stroke-width="2.5" stroke-linecap="butt"/>
<rect x="1772.75" y="967.75" width="10.5" height="10.5" fill="#000"/>
<rect x="1766.75" y="1017.75" width="10.5" height="10.5" fill="#000"/>
<rect x="1778.75" y="1027.75" width="10.5" height="10.5" fill="#000"/>
<rect x="1772.75" y="1047.75" width="10.5" height="10.5" fill="#000"/>
<rect x="1772.75" y="1050.75" width="10.5" height="10.5" fill="#000"/>
<rect x="1819.65" y="1180.9" width="17.2" height="49.1" fill="#fff" stroke="#000" stroke-width="2.8"/>
<line x1="1828.25" y1="1174.5" x2="1828.25" y2="1186.5" stroke="#000" stroke-width="2.5" stroke-linecap="butt"/>
<line x1="1821.75" y1="1174.5" x2="1834.75" y2="1174.5" stroke="#000" stroke-width="2.5" stroke-linecap="butt"/>
<line x1="1821.75" y1="1186.5" x2="1834.75" y2="1186.5" stroke="#000" stroke-width="2.5" stroke-linecap="butt"/>
<circle cx="1824.25" cy="1173.5" r="5.3" fill="#000"/>
<circle cx="1830.25" cy="1174.5" r="5.3" fill="#000"/>
<circle cx="1833.25" cy="1176.5" r="5.3" fill="#000"/>
<circle cx="1825.25" cy="1189.5" r="5.3" fill="#000"/>
<circle cx="1828.25" cy="1182.5" r="5.3" fill="#000"/>
<rect x="1850.4" y="1063.9" width="16.45" height="166.1" fill="#3fae1c" stroke="#000" stroke-width="2.8"/>
<line x1="1858.62" y1="1035.5" x2="1858.62" y2="1090.5" stroke="#000" stroke-width="2.5" stroke-linecap="butt"/>
<line x1="1852.12" y1="1035.5" x2="1865.12" y2="1035.5" stroke="#000" stroke-width="2.5" stroke-linecap="butt"/>
<line x1="1852.12" y1="1090.5" x2="1865.12" y2="1090.5" stroke="#000" stroke-width="2.5" stroke-linecap="butt"/>
<rect x="1850.38" y="1030.25" width="10.5" height="10.5" fill="#000"/>
<rect x="1857.38" y="1030.25" width="10.5" height="10.5" fill="#000"/>
<rect x="1853.38" y="1067.25" width="10.5" height="10.5" fill="#000"/>
<rect x="1853.38" y="1090.25" width="10.5" height="10.5" fill="#000"/>
<rect x="1853.38" y="1092.25" width="10.5" height="10.5" fill="#000"/>
<rect x="1900.15" y="1159.65" width="17.2" height="70.35" fill="#fff" stroke="#000" stroke-width="2.8"/>
<line x1="1908.75" y1="1153.25" x2="1908.75" y2="1163.25" stroke="#000" stroke-width="2.5" stroke-linecap="butt"/>
<line x1="1902.25" y1="1153.25" x2="1915.25" y2="1153.25" stroke="#000" stroke-width="2.5" stroke-linecap="butt"/>
<line x1="1902.25" y1="1163.25" x2="1915.25" y2="1163.25" stroke="#000" stroke-width="2.5" stroke-linecap="butt"/>
<circle cx="1908.75" cy="1146.25" r="5.3" fill="#000"/>
<circle cx="1904.75" cy="1156.25" r="5.3" fill="#000"/>
<circle cx="1913.75" cy="1156.25" r="5.3" fill="#000"/>
<circle cx="1908.75" cy="1164.25" r="5.3" fill="#000"/>
<circle cx="1904.75" cy="1167.25" r="5.3" fill="#000"/>
<rect x="1930.9" y="1006.4" width="15.95" height="223.6" fill="#3fae1c" stroke="#000" stroke-width="2.8"/>
<line x1="1938.88" y1="986" x2="1938.88" y2="1024" stroke="#000" stroke-width="2.5" stroke-linecap="butt"/>
<line x1="1932.38" y1="986" x2="1945.38" y2="986" stroke="#000" stroke-width="2.5" stroke-linecap="butt"/>
<line x1="1932.38" y1="1024" x2="1945.38" y2="1024" stroke="#000" stroke-width="2.5" stroke-linecap="butt"/>
<rect x="1928.62" y="988.75" width="10.5" height="10.5" fill="#000"/>
<rect x="1938.62" y="988.75" width="10.5" height="10.5" fill="#000"/>
<rect x="1928.62" y="997.75" width="10.5" height="10.5" fill="#000"/>
<rect x="1938.62" y="997.75" width="10.5" height="10.5" fill="#000"/>
<rect x="1933.62" y="1032.75" width="10.5" height="10.5" fill="#000"/>
<text x="1739" y="1107.05" font-size="25.5" text-anchor="middle"><tspan font-style="italic">p</tspan> =</text>
<text x="1739" y="1140.3" font-size="25.5" text-anchor="middle">0.04</text>
<text x="1748.77 1765.35 1781.92 1798.49" y="976.95" font-size="36.5" stroke="#000" stroke-width="0.45" transform="matrix(1.056 0 0 1 -99.72 0)">****</text>
<text x="1822.5" y="1162.05" font-size="25.5" text-anchor="middle">NS</text>
<text x="1827.02 1843.6 1860.17 1876.74" y="1040.2" font-size="36.5" stroke="#000" stroke-width="0.45" transform="matrix(1.056 0 0 1 -104.1 0)">****</text>
<text x="1898.25" y="1102.05" font-size="25.5" text-anchor="middle"><tspan font-style="italic">p</tspan> =</text>
<text x="1897.75" y="1134.55" font-size="25.5" text-anchor="middle">0.04</text>
<text x="1905.77 1922.35 1938.92 1955.49" y="988.2" font-size="36.5" stroke="#000" stroke-width="0.45" transform="matrix(1.056 0 0 1 -108.51 0)">****</text>
<polyline points="1778.25,942.7 1778.25,935.2 1857,935.2 1857,942.7" fill="none" stroke="#000" stroke-width="2.85" stroke-linecap="round" stroke-linejoin="round"/>
<text x="1802.5" y="929.55" font-size="25.5" text-anchor="middle"><tspan font-style="italic">p</tspan> = 0.04</text>
<polyline points="1858.75,930.45 1858.75,921.95 1939,921.95 1939,930.45" fill="none" stroke="#000" stroke-width="2.85" stroke-linecap="round" stroke-linejoin="round"/>
<text x="1875.31 1891.88 1908.45" y="931.2" font-size="36.5" stroke="#000" stroke-width="0.45" transform="matrix(1.056 0 0 1 -106.34 0)">***</text>
<polyline points="1778.25,909.2 1778.25,900.7 1939,900.7 1939,909.2" fill="none" stroke="#000" stroke-width="2.85" stroke-linecap="round" stroke-linejoin="round"/>
<text x="1864" y="894.55" font-size="25.5" text-anchor="middle">NS</text>
<text x="-0.6" y="1352.7" font-size="43" text-anchor="start" font-weight="bold">d</text>
<text transform="translate(26.5,1536) rotate(-90)" font-size="29.5" text-anchor="middle">CCR7 MFI (x10<tspan font-size="18.29" dy="-11.21">3</tspan><tspan dy="11.21">)</tspan></text>
<line x1="116.5" y1="1389.3" x2="116.5" y2="1681.9" stroke="#000" stroke-width="2.8" stroke-linecap="butt"/>
<line x1="109" y1="1390.5" x2="116.5" y2="1390.5" stroke="#000" stroke-width="2.8" stroke-linecap="butt"/>
<text x="96.8" y="1399.45" font-size="29.5" text-anchor="end">1.0</text>
<line x1="109" y1="1448.25" x2="116.5" y2="1448.25" stroke="#000" stroke-width="2.8" stroke-linecap="butt"/>
<text x="96.8" y="1457.2" font-size="29.5" text-anchor="end">0.8</text>
<line x1="109" y1="1506.25" x2="116.5" y2="1506.25" stroke="#000" stroke-width="2.8" stroke-linecap="butt"/>
<text x="96.8" y="1515.2" font-size="29.5" text-anchor="end">0.6</text>
<line x1="109" y1="1564.25" x2="116.5" y2="1564.25" stroke="#000" stroke-width="2.8" stroke-linecap="butt"/>
<text x="96.8" y="1573.2" font-size="29.5" text-anchor="end">0.4</text>
<line x1="109" y1="1622.5" x2="116.5" y2="1622.5" stroke="#000" stroke-width="2.8" stroke-linecap="butt"/>
<text x="96.8" y="1631.45" font-size="29.5" text-anchor="end">0.2</text>
<line x1="109" y1="1680.5" x2="116.5" y2="1680.5" stroke="#000" stroke-width="2.8" stroke-linecap="butt"/>
<text x="96.8" y="1689.45" font-size="29.5" text-anchor="end">0</text>
<line x1="108" y1="1680.5" x2="428.75" y2="1680.5" stroke="#000" stroke-width="2.8" stroke-linecap="butt"/>
<line x1="151.25" y1="1680.5" x2="151.25" y2="1689" stroke="#000" stroke-width="2.8" stroke-linecap="butt"/>
<text x="151.25" y="1723.3" font-size="29.5" text-anchor="middle">PBS</text>
<line x1="231.25" y1="1680.5" x2="231.25" y2="1689" stroke="#000" stroke-width="2.8" stroke-linecap="butt"/>
<text x="232.45" y="1723.3" font-size="29.5" text-anchor="middle" font-style="italic">Ms</text>
<line x1="311.75" y1="1680.5" x2="311.75" y2="1689" stroke="#000" stroke-width="2.8" stroke-linecap="butt"/>
<text x="312.95" y="1723.3" font-size="29.5" text-anchor="middle" font-style="italic">Nb</text>
<line x1="391.75" y1="1680.5" x2="391.75" y2="1689" stroke="#000" stroke-width="2.8" stroke-linecap="butt"/>
<text x="392.95" y="1723.3" font-size="29.5" text-anchor="middle" font-style="italic">Ca</text>
<rect x="130.7" y="1397.3" width="21" height="21" fill="#fff" stroke="#000" stroke-width="2.7"/>
<rect x="130.7" y="1432.3" width="21" height="21" fill="#3fae1c" stroke="#000" stroke-width="2.7"/>
<text x="166" y="1416.8" font-size="29.5" text-anchor="start">Ag–</text>
<text x="166" y="1452.3" font-size="29.5" text-anchor="start">Ag+</text>
<rect x="128.9" y="1667.65" width="16.7" height="12.85" fill="#fff" stroke="#000" stroke-width="2.8"/>
<line x1="137.25" y1="1663.25" x2="137.25" y2="1669.25" stroke="#000" stroke-width="2.5" stroke-linecap="butt"/>
<line x1="130.75" y1="1663.25" x2="143.75" y2="1663.25" stroke="#000" stroke-width="2.5" stroke-linecap="butt"/>
<circle cx="133.25" cy="1664.25" r="5.3" fill="#000"/>
<circle cx="137.25" cy="1663.25" r="5.3" fill="#000"/>
<circle cx="141.25" cy="1665.25" r="5.3" fill="#000"/>
<circle cx="135.25" cy="1667.25" r="5.3" fill="#000"/>
<circle cx="142.25" cy="1669.25" r="5.3" fill="#000"/>
<rect x="208.9" y="1666.4" width="16.7" height="14.1" fill="#fff" stroke="#000" stroke-width="2.8"/>
<line x1="217.25" y1="1661" x2="217.25" y2="1669" stroke="#000" stroke-width="2.5" stroke-linecap="butt"/>
<line x1="210.75" y1="1661" x2="223.75" y2="1661" stroke="#000" stroke-width="2.5" stroke-linecap="butt"/>
<line x1="210.75" y1="1669" x2="223.75" y2="1669" stroke="#000" stroke-width="2.5" stroke-linecap="butt"/>
<circle cx="216.25" cy="1655" r="5.3" fill="#000"/>
<circle cx="220.25" cy="1662" r="5.3" fill="#000"/>
<circle cx="213.25" cy="1665" r="5.3" fill="#000"/>
<circle cx="221.25" cy="1667" r="5.3" fill="#000"/>
<circle cx="217.25" cy="1666" r="5.3" fill="#000"/>
<rect x="288.9" y="1663.9" width="16.7" height="16.6" fill="#fff" stroke="#000" stroke-width="2.8"/>
<line x1="297.25" y1="1659.5" x2="297.25" y2="1665.5" stroke="#000" stroke-width="2.5" stroke-linecap="butt"/>
<line x1="290.75" y1="1659.5" x2="303.75" y2="1659.5" stroke="#000" stroke-width="2.5" stroke-linecap="butt"/>
<circle cx="293.25" cy="1659.5" r="5.3" fill="#000"/>
<circle cx="297.25" cy="1660.5" r="5.3" fill="#000"/>
<circle cx="301.25" cy="1662.5" r="5.3" fill="#000"/>
<circle cx="295.25" cy="1663.5" r="5.3" fill="#000"/>
<circle cx="302.25" cy="1664.5" r="5.3" fill="#000"/>
<rect x="368.9" y="1663.4" width="16.7" height="17.1" fill="#fff" stroke="#000" stroke-width="2.8"/>
<line x1="377.25" y1="1659" x2="377.25" y2="1665" stroke="#000" stroke-width="2.5" stroke-linecap="butt"/>
<line x1="370.75" y1="1659" x2="383.75" y2="1659" stroke="#000" stroke-width="2.5" stroke-linecap="butt"/>
<circle cx="373.25" cy="1660" r="5.3" fill="#000"/>
<circle cx="377.25" cy="1659" r="5.3" fill="#000"/>
<circle cx="381.25" cy="1661" r="5.3" fill="#000"/>
<circle cx="375.25" cy="1663" r="5.3" fill="#000"/>
<circle cx="382.25" cy="1664" r="5.3" fill="#000"/>
<line x1="138.5" y1="1640.8" x2="380" y2="1640.8" stroke="#000" stroke-width="2.85" stroke-linecap="round"/>
<text x="261.25" y="1635.8" font-size="25.5" text-anchor="middle">NS</text>
<line x1="505.5" y1="1389.3" x2="505.5" y2="1681.9" stroke="#000" stroke-width="2.8" stroke-linecap="butt"/>
<line x1="498" y1="1390.5" x2="505.5" y2="1390.5" stroke="#000" stroke-width="2.8" stroke-linecap="butt"/>
<text x="485" y="1399.45" font-size="29.5" text-anchor="end">8</text>
<line x1="498" y1="1463" x2="505.5" y2="1463" stroke="#000" stroke-width="2.8" stroke-linecap="butt"/>
<text x="485" y="1471.95" font-size="29.5" text-anchor="end">6</text>
<line x1="498" y1="1535.5" x2="505.5" y2="1535.5" stroke="#000" stroke-width="2.8" stroke-linecap="butt"/>
<text x="485" y="1544.45" font-size="29.5" text-anchor="end">4</text>
<line x1="498" y1="1608" x2="505.5" y2="1608" stroke="#000" stroke-width="2.8" stroke-linecap="butt"/>
<text x="485" y="1616.95" font-size="29.5" text-anchor="end">2</text>
<line x1="498" y1="1680.5" x2="505.5" y2="1680.5" stroke="#000" stroke-width="2.8" stroke-linecap="butt"/>
<text x="485" y="1689.45" font-size="29.5" text-anchor="end">0</text>
<line x1="497.5" y1="1680.5" x2="817" y2="1680.5" stroke="#000" stroke-width="2.8" stroke-linecap="butt"/>
<line x1="540" y1="1680.5" x2="540" y2="1689" stroke="#000" stroke-width="2.8" stroke-linecap="butt"/>
<text x="540" y="1723.3" font-size="29.5" text-anchor="middle">PBS</text>
<line x1="620" y1="1680.5" x2="620" y2="1689" stroke="#000" stroke-width="2.8" stroke-linecap="butt"/>
<text x="621.2" y="1723.3" font-size="29.5" text-anchor="middle" font-style="italic">Ms</text>
<line x1="700" y1="1680.5" x2="700" y2="1689" stroke="#000" stroke-width="2.8" stroke-linecap="butt"/>
<text x="701.2" y="1723.3" font-size="29.5" text-anchor="middle" font-style="italic">Nb</text>
<line x1="780.5" y1="1680.5" x2="780.5" y2="1689" stroke="#000" stroke-width="2.8" stroke-linecap="butt"/>
<text x="781.7" y="1723.3" font-size="29.5" text-anchor="middle" font-style="italic">Ca</text>
<rect x="516.9" y="1563.9" width="17.2" height="116.6" fill="#fff" stroke="#000" stroke-width="2.8"/>
<line x1="525.5" y1="1557.5" x2="525.5" y2="1567.5" stroke="#000" stroke-width="2.5" stroke-linecap="butt"/>
<line x1="519" y1="1557.5" x2="532" y2="1557.5" stroke="#000" stroke-width="2.5" stroke-linecap="butt"/>
<line x1="519" y1="1567.5" x2="532" y2="1567.5" stroke="#000" stroke-width="2.5" stroke-linecap="butt"/>
<circle cx="520.5" cy="1554.5" r="5.3" fill="#000"/>
<circle cx="529.5" cy="1557.5" r="5.3" fill="#000"/>
<circle cx="521.5" cy="1566.5" r="5.3" fill="#000"/>
<circle cx="530.5" cy="1567.5" r="5.3" fill="#000"/>
<circle cx="525.5" cy="1562.5" r="5.3" fill="#000"/>
<rect x="597.15" y="1456.4" width="16.95" height="224.1" fill="#fff" stroke="#000" stroke-width="2.8"/>
<line x1="605.62" y1="1430" x2="605.62" y2="1480" stroke="#000" stroke-width="2.5" stroke-linecap="butt"/>
<line x1="599.12" y1="1430" x2="612.12" y2="1430" stroke="#000" stroke-width="2.5" stroke-linecap="butt"/>
<line x1="599.12" y1="1480" x2="612.12" y2="1480" stroke="#000" stroke-width="2.5" stroke-linecap="butt"/>
<circle cx="605.62" cy="1427" r="5.3" fill="#000"/>
<circle cx="601.62" cy="1446" r="5.3" fill="#000"/>
<circle cx="609.62" cy="1452" r="5.3" fill="#000"/>
<circle cx="605.62" cy="1457" r="5.3" fill="#000"/>
<circle cx="605.62" cy="1495" r="5.3" fill="#000"/>
<rect x="677.65" y="1485.9" width="17.2" height="194.6" fill="#fff" stroke="#000" stroke-width="2.8"/>
<line x1="686.25" y1="1467" x2="686.25" y2="1501.5" stroke="#000" stroke-width="2.5" stroke-linecap="butt"/>
<line x1="679.75" y1="1467" x2="692.75" y2="1467" stroke="#000" stroke-width="2.5" stroke-linecap="butt"/>
<line x1="679.75" y1="1501.5" x2="692.75" y2="1501.5" stroke="#000" stroke-width="2.5" stroke-linecap="butt"/>
<circle cx="682.25" cy="1473.5" r="5.3" fill="#000"/>
<circle cx="690.25" cy="1477.5" r="5.3" fill="#000"/>
<circle cx="686.25" cy="1480.5" r="5.3" fill="#000"/>
<circle cx="686.25" cy="1487.5" r="5.3" fill="#000"/>
<circle cx="686.25" cy="1512.5" r="5.3" fill="#000"/>
<rect x="757.65" y="1462.65" width="17.2" height="217.85" fill="#fff" stroke="#000" stroke-width="2.8"/>
<line x1="766.25" y1="1448.25" x2="766.25" y2="1477.25" stroke="#000" stroke-width="2.5" stroke-linecap="butt"/>
<line x1="759.75" y1="1448.25" x2="772.75" y2="1448.25" stroke="#000" stroke-width="2.5" stroke-linecap="butt"/>
<line x1="759.75" y1="1477.25" x2="772.75" y2="1477.25" stroke="#000" stroke-width="2.5" stroke-linecap="butt"/>
<circle cx="761.25" cy="1441.25" r="5.3" fill="#000"/>
<circle cx="771.25" cy="1448.25" r="5.3" fill="#000"/>
<circle cx="761.25" cy="1461.25" r="5.3" fill="#000"/>
<circle cx="771.25" cy="1467.25" r="5.3" fill="#000"/>
<circle cx="766.25" cy="1484.25" r="5.3" fill="#000"/>
<text x="579.09 593.57 608.05 622.54" y="1419.95" font-size="22.3" stroke="#000" stroke-width="0.15" transform="matrix(0.87 0 0 1 78.91 0)">####</text>
<text x="660.09 674.57 689.05 703.54" y="1461.7" font-size="22.3" stroke="#000" stroke-width="0.15" transform="matrix(0.87 0 0 1 89.44 0)">####</text>
<text x="739.59 754.07 768.55 783.04" y="1436.2" font-size="22.3" stroke="#000" stroke-width="0.15" transform="matrix(0.87 0 0 1 99.78 0)">####</text>
<polyline points="603.75,1403.2 603.75,1395.7 684.25,1395.7 684.25,1403.2" fill="none" stroke="#000" stroke-width="2.85" stroke-linecap="round" stroke-linejoin="round"/>
<text x="648.75" y="1387.05" font-size="25.5" text-anchor="middle"><tspan font-style="italic">p</tspan> = 0.03</text>
<polyline points="684.25,1417.2 684.25,1410.2 765,1410.2 765,1417.2" fill="none" stroke="#000" stroke-width="2.85" stroke-linecap="round" stroke-linejoin="round"/>
<text x="720.5" y="1403.8" font-size="25.5" text-anchor="middle">NS</text>
<polyline points="603.75,1373.7 603.75,1366.2 765,1366.2 765,1373.7" fill="none" stroke="#000" stroke-width="2.85" stroke-linecap="round" stroke-linejoin="round"/>
<text x="684.5" y="1360.8" font-size="25.5" text-anchor="middle">NS</text>
<line x1="868.25" y1="1389.3" x2="868.25" y2="1681.9" stroke="#000" stroke-width="2.8" stroke-linecap="butt"/>
<line x1="860.75" y1="1390.5" x2="868.25" y2="1390.5" stroke="#000" stroke-width="2.8" stroke-linecap="butt"/>
<line x1="860.75" y1="1463" x2="868.25" y2="1463" stroke="#000" stroke-width="2.8" stroke-linecap="butt"/>
<line x1="860.75" y1="1535.5" x2="868.25" y2="1535.5" stroke="#000" stroke-width="2.8" stroke-linecap="butt"/>
<line x1="860.75" y1="1608" x2="868.25" y2="1608" stroke="#000" stroke-width="2.8" stroke-linecap="butt"/>
<line x1="860.75" y1="1680.5" x2="868.25" y2="1680.5" stroke="#000" stroke-width="2.8" stroke-linecap="butt"/>
<line x1="860.5" y1="1680.5" x2="1179.25" y2="1680.5" stroke="#000" stroke-width="2.8" stroke-linecap="butt"/>
<line x1="902.5" y1="1680.5" x2="902.5" y2="1689" stroke="#000" stroke-width="2.8" stroke-linecap="butt"/>
<text x="902.5" y="1723.3" font-size="29.5" text-anchor="middle">PBS</text>
<line x1="983" y1="1680.5" x2="983" y2="1689" stroke="#000" stroke-width="2.8" stroke-linecap="butt"/>
<text x="984.2" y="1723.3" font-size="29.5" text-anchor="middle" font-style="italic">Ms</text>
<line x1="1063" y1="1680.5" x2="1063" y2="1689" stroke="#000" stroke-width="2.8" stroke-linecap="butt"/>
<text x="1064.2" y="1723.3" font-size="29.5" text-anchor="middle" font-style="italic">Nb</text>
<line x1="1143.25" y1="1680.5" x2="1143.25" y2="1689" stroke="#000" stroke-width="2.8" stroke-linecap="butt"/>
<text x="1144.45" y="1723.3" font-size="29.5" text-anchor="middle" font-style="italic">Ca</text>
<rect x="879.65" y="1546.4" width="16.95" height="134.1" fill="#fff" stroke="#000" stroke-width="2.8"/>
<line x1="888.12" y1="1539" x2="888.12" y2="1551" stroke="#000" stroke-width="2.5" stroke-linecap="butt"/>
<line x1="881.62" y1="1539" x2="894.62" y2="1539" stroke="#000" stroke-width="2.5" stroke-linecap="butt"/>
<line x1="881.62" y1="1551" x2="894.62" y2="1551" stroke="#000" stroke-width="2.5" stroke-linecap="butt"/>
<circle cx="884.12" cy="1536" r="5.3" fill="#000"/>
<circle cx="892.12" cy="1537" r="5.3" fill="#000"/>
<circle cx="888.12" cy="1542" r="5.3" fill="#000"/>
<circle cx="884.12" cy="1552" r="5.3" fill="#000"/>
<circle cx="892.12" cy="1551" r="5.3" fill="#000"/>
<rect x="960.15" y="1471.4" width="17.2" height="209.1" fill="#fff" stroke="#000" stroke-width="2.8"/>
<line x1="968.75" y1="1460" x2="968.75" y2="1480" stroke="#000" stroke-width="2.5" stroke-linecap="butt"/>
<line x1="962.25" y1="1460" x2="975.25" y2="1460" stroke="#000" stroke-width="2.5" stroke-linecap="butt"/>
<line x1="962.25" y1="1480" x2="975.25" y2="1480" stroke="#000" stroke-width="2.5" stroke-linecap="butt"/>
<circle cx="966.75" cy="1460" r="5.3" fill="#000"/>
<circle cx="972.75" cy="1461" r="5.3" fill="#000"/>
<circle cx="968.75" cy="1465" r="5.3" fill="#000"/>
<circle cx="966.75" cy="1485" r="5.3" fill="#000"/>
<circle cx="970.75" cy="1482" r="5.3" fill="#000"/>
<rect x="1040.15" y="1502.65" width="17.2" height="177.85" fill="#fff" stroke="#000" stroke-width="2.8"/>
<line x1="1048.75" y1="1482.25" x2="1048.75" y2="1521.25" stroke="#000" stroke-width="2.5" stroke-linecap="butt"/>
<line x1="1042.25" y1="1482.25" x2="1055.25" y2="1482.25" stroke="#000" stroke-width="2.5" stroke-linecap="butt"/>
<line x1="1042.25" y1="1521.25" x2="1055.25" y2="1521.25" stroke="#000" stroke-width="2.5" stroke-linecap="butt"/>
<circle cx="1048.75" cy="1474.25" r="5.3" fill="#000"/>
<circle cx="1043.75" cy="1499.25" r="5.3" fill="#000"/>
<circle cx="1053.75" cy="1498.25" r="5.3" fill="#000"/>
<circle cx="1051.75" cy="1509.25" r="5.3" fill="#000"/>
<circle cx="1048.75" cy="1528.25" r="5.3" fill="#000"/>
<rect x="1120.65" y="1487.65" width="16.7" height="192.85" fill="#fff" stroke="#000" stroke-width="2.8"/>
<line x1="1129" y1="1480.25" x2="1129" y2="1494.25" stroke="#000" stroke-width="2.5" stroke-linecap="butt"/>
<line x1="1122.5" y1="1480.25" x2="1135.5" y2="1480.25" stroke="#000" stroke-width="2.5" stroke-linecap="butt"/>
<line x1="1122.5" y1="1494.25" x2="1135.5" y2="1494.25" stroke="#000" stroke-width="2.5" stroke-linecap="butt"/>
<circle cx="1125" cy="1474.25" r="5.3" fill="#000"/>
<circle cx="1134" cy="1474.25" r="5.3" fill="#000"/>
<circle cx="1124" cy="1488.25" r="5.3" fill="#000"/>
<circle cx="1134" cy="1490.25" r="5.3" fill="#000"/>
<circle cx="1129" cy="1503.25" r="5.3" fill="#000"/>
<text x="938.34 952.82 967.3 981.79" y="1451.2" font-size="22.3" stroke="#000" stroke-width="0.15" transform="matrix(0.87 0 0 1 125.61 0)">####</text>
<text x="1027.38 1041.17 1054.97" y="1462.45" font-size="21" stroke="#000" stroke-width="0.15" transform="matrix(0.87 0 0 1 136.11 0)">###</text>
<text x="1098.34 1112.82 1127.3 1141.79" y="1463.2" font-size="22.3" stroke="#000" stroke-width="0.15" transform="matrix(0.87 0 0 1 146.41 0)">####</text>
<polyline points="966.25,1426.2 966.25,1418.7 1047,1418.7 1047,1426.2" fill="none" stroke="#000" stroke-width="2.85" stroke-linecap="round" stroke-linejoin="round"/>
<text x="994.1 1010.67" y="1426.95" font-size="36.5" stroke="#000" stroke-width="0.45" transform="matrix(1.056 0 0 1 -56.53 0)">**</text>
<polyline points="1047,1413.95 1047,1406.95 1127.5,1406.95 1127.5,1413.95" fill="none" stroke="#000" stroke-width="2.85" stroke-linecap="round" stroke-linejoin="round"/>
<text x="1089.5" y="1398.3" font-size="25.5" text-anchor="middle">NS</text>
<polyline points="966.25,1380.7 966.25,1373.2 1127.5,1373.2 1127.5,1380.7" fill="none" stroke="#000" stroke-width="2.85" stroke-linecap="round" stroke-linejoin="round"/>
<text x="1048" y="1366.3" font-size="25.5" text-anchor="middle">NS</text>
<line x1="1261.25" y1="1389.3" x2="1261.25" y2="1681.9" stroke="#000" stroke-width="2.8" stroke-linecap="butt"/>
<line x1="1253.75" y1="1390.5" x2="1261.25" y2="1390.5" stroke="#000" stroke-width="2.8" stroke-linecap="butt"/>
<text x="1240" y="1399.45" font-size="29.5" text-anchor="end">2.5</text>
<line x1="1253.75" y1="1448.75" x2="1261.25" y2="1448.75" stroke="#000" stroke-width="2.8" stroke-linecap="butt"/>
<text x="1240" y="1457.7" font-size="29.5" text-anchor="end">2.0</text>
<line x1="1253.75" y1="1506.75" x2="1261.25" y2="1506.75" stroke="#000" stroke-width="2.8" stroke-linecap="butt"/>
<text x="1240" y="1515.7" font-size="29.5" text-anchor="end">1.5</text>
<line x1="1253.75" y1="1565" x2="1261.25" y2="1565" stroke="#000" stroke-width="2.8" stroke-linecap="butt"/>
<text x="1240" y="1573.95" font-size="29.5" text-anchor="end">1.0</text>
<line x1="1253.75" y1="1622.5" x2="1261.25" y2="1622.5" stroke="#000" stroke-width="2.8" stroke-linecap="butt"/>
<text x="1240" y="1631.45" font-size="29.5" text-anchor="end">0.5</text>
<line x1="1253.75" y1="1680.5" x2="1261.25" y2="1680.5" stroke="#000" stroke-width="2.8" stroke-linecap="butt"/>
<text x="1240" y="1689.45" font-size="29.5" text-anchor="end">0</text>
<line x1="1253" y1="1680.5" x2="1572" y2="1680.5" stroke="#000" stroke-width="2.8" stroke-linecap="butt"/>
<line x1="1295.5" y1="1680.5" x2="1295.5" y2="1689" stroke="#000" stroke-width="2.8" stroke-linecap="butt"/>
<text x="1295.5" y="1723.3" font-size="29.5" text-anchor="middle">PBS</text>
<line x1="1376.25" y1="1680.5" x2="1376.25" y2="1689" stroke="#000" stroke-width="2.8" stroke-linecap="butt"/>
<text x="1377.45" y="1723.3" font-size="29.5" text-anchor="middle" font-style="italic">Ms</text>
<line x1="1456.25" y1="1680.5" x2="1456.25" y2="1689" stroke="#000" stroke-width="2.8" stroke-linecap="butt"/>
<text x="1457.45" y="1723.3" font-size="29.5" text-anchor="middle" font-style="italic">Nb</text>
<line x1="1536.25" y1="1680.5" x2="1536.25" y2="1689" stroke="#000" stroke-width="2.8" stroke-linecap="butt"/>
<text x="1537.45" y="1723.3" font-size="29.5" text-anchor="middle" font-style="italic">Ca</text>
<rect x="1272.15" y="1598.9" width="17.2" height="81.6" fill="#fff" stroke="#000" stroke-width="2.8"/>
<line x1="1280.75" y1="1584.5" x2="1280.75" y2="1610.5" stroke="#000" stroke-width="2.5" stroke-linecap="butt"/>
<line x1="1274.25" y1="1584.5" x2="1287.25" y2="1584.5" stroke="#000" stroke-width="2.5" stroke-linecap="butt"/>
<line x1="1274.25" y1="1610.5" x2="1287.25" y2="1610.5" stroke="#000" stroke-width="2.5" stroke-linecap="butt"/>
<circle cx="1280.75" cy="1576.5" r="5.3" fill="#000"/>
<circle cx="1280.75" cy="1592.5" r="5.3" fill="#000"/>
<circle cx="1276.75" cy="1607.5" r="5.3" fill="#000"/>
<circle cx="1284.75" cy="1605.5" r="5.3" fill="#000"/>
<circle cx="1277.75" cy="1614.5" r="5.3" fill="#000"/>
<rect x="1353.15" y="1568.4" width="17.2" height="112.1" fill="#fff" stroke="#000" stroke-width="2.8"/>
<line x1="1361.75" y1="1563" x2="1361.75" y2="1571" stroke="#000" stroke-width="2.5" stroke-linecap="butt"/>
<line x1="1355.25" y1="1563" x2="1368.25" y2="1563" stroke="#000" stroke-width="2.5" stroke-linecap="butt"/>
<line x1="1355.25" y1="1571" x2="1368.25" y2="1571" stroke="#000" stroke-width="2.5" stroke-linecap="butt"/>
<circle cx="1358.75" cy="1560" r="5.3" fill="#000"/>
<circle cx="1365.75" cy="1562" r="5.3" fill="#000"/>
<circle cx="1356.75" cy="1569" r="5.3" fill="#000"/>
<circle cx="1365.75" cy="1568" r="5.3" fill="#000"/>
<circle cx="1359.75" cy="1577" r="5.3" fill="#000"/>
<rect x="1383.4" y="1478.4" width="16.45" height="202.1" fill="#3fae1c" stroke="#000" stroke-width="2.8"/>
<line x1="1391.62" y1="1465" x2="1391.62" y2="1489" stroke="#000" stroke-width="2.5" stroke-linecap="butt"/>
<line x1="1385.12" y1="1465" x2="1398.12" y2="1465" stroke="#000" stroke-width="2.5" stroke-linecap="butt"/>
<line x1="1385.12" y1="1489" x2="1398.12" y2="1489" stroke="#000" stroke-width="2.5" stroke-linecap="butt"/>
<rect x="1386.38" y="1445.75" width="10.5" height="10.5" fill="#000"/>
<rect x="1386.38" y="1461.75" width="10.5" height="10.5" fill="#000"/>
<rect x="1381.38" y="1475.75" width="10.5" height="10.5" fill="#000"/>
<rect x="1391.38" y="1475.75" width="10.5" height="10.5" fill="#000"/>
<rect x="1386.38" y="1501.75" width="10.5" height="10.5" fill="#000"/>
<rect x="1433.15" y="1583.4" width="17.2" height="97.1" fill="#fff" stroke="#000" stroke-width="2.8"/>
<line x1="1441.75" y1="1576" x2="1441.75" y2="1588" stroke="#000" stroke-width="2.5" stroke-linecap="butt"/>
<line x1="1435.25" y1="1576" x2="1448.25" y2="1576" stroke="#000" stroke-width="2.5" stroke-linecap="butt"/>
<line x1="1435.25" y1="1588" x2="1448.25" y2="1588" stroke="#000" stroke-width="2.5" stroke-linecap="butt"/>
<circle cx="1445.75" cy="1570" r="5.3" fill="#000"/>
<circle cx="1437.75" cy="1577" r="5.3" fill="#000"/>
<circle cx="1446.75" cy="1585" r="5.3" fill="#000"/>
<circle cx="1439.75" cy="1586" r="5.3" fill="#000"/>
<circle cx="1437.75" cy="1594" r="5.3" fill="#000"/>
<rect x="1463.9" y="1480.9" width="15.95" height="199.6" fill="#3fae1c" stroke="#000" stroke-width="2.8"/>
<line x1="1471.88" y1="1476.5" x2="1471.88" y2="1482.5" stroke="#000" stroke-width="2.5" stroke-linecap="butt"/>
<line x1="1465.38" y1="1476.5" x2="1478.38" y2="1476.5" stroke="#000" stroke-width="2.5" stroke-linecap="butt"/>
<rect x="1471.62" y="1469.25" width="10.5" height="10.5" fill="#000"/>
<rect x="1461.62" y="1472.25" width="10.5" height="10.5" fill="#000"/>
<rect x="1470.62" y="1477.25" width="10.5" height="10.5" fill="#000"/>
<rect x="1462.62" y="1479.25" width="10.5" height="10.5" fill="#000"/>
<rect x="1468.62" y="1482.25" width="10.5" height="10.5" fill="#000"/>
<rect x="1513.15" y="1598.15" width="17.2" height="82.35" fill="#fff" stroke="#000" stroke-width="2.8"/>
<line x1="1521.75" y1="1593.75" x2="1521.75" y2="1599.75" stroke="#000" stroke-width="2.5" stroke-linecap="butt"/>
<line x1="1515.25" y1="1593.75" x2="1528.25" y2="1593.75" stroke="#000" stroke-width="2.5" stroke-linecap="butt"/>
<circle cx="1521.75" cy="1589.75" r="5.3" fill="#000"/>
<circle cx="1517.75" cy="1594.75" r="5.3" fill="#000"/>
<circle cx="1525.75" cy="1595.75" r="5.3" fill="#000"/>
<circle cx="1518.75" cy="1598.75" r="5.3" fill="#000"/>
<circle cx="1525.75" cy="1598.75" r="5.3" fill="#000"/>
<rect x="1544.4" y="1485.15" width="15.95" height="195.35" fill="#3fae1c" stroke="#000" stroke-width="2.8"/>
<line x1="1552.38" y1="1472.75" x2="1552.38" y2="1487.75" stroke="#000" stroke-width="2.5" stroke-linecap="butt"/>
<line x1="1545.88" y1="1472.75" x2="1558.88" y2="1472.75" stroke="#000" stroke-width="2.5" stroke-linecap="butt"/>
<line x1="1545.88" y1="1487.75" x2="1558.88" y2="1487.75" stroke="#000" stroke-width="2.5" stroke-linecap="butt"/>
<rect x="1547.12" y="1445.5" width="10.5" height="10.5" fill="#000"/>
<rect x="1547.12" y="1462.5" width="10.5" height="10.5" fill="#000"/>
<rect x="1547.12" y="1485.5" width="10.5" height="10.5" fill="#000"/>
<rect x="1542.12" y="1490.5" width="10.5" height="10.5" fill="#000"/>
<rect x="1552.12" y="1489.5" width="10.5" height="10.5" fill="#000"/>
<text x="1345.84 1359.06" y="1547.45" font-size="20" stroke="#000" stroke-width="0.15" transform="matrix(0.87 0 0 1 176.54 0)">##</text>
<text x="1364.27 1380.85 1397.42 1413.99" y="1448.2" font-size="36.5" stroke="#000" stroke-width="0.45" transform="matrix(1.056 0 0 1 -78.19 0)">****</text>
<text x="1437" y="1558.3" font-size="25.5" text-anchor="middle">NS</text>
<text x="1443.77 1460.35 1476.92 1493.49" y="1476.2" font-size="36.5" stroke="#000" stroke-width="0.45" transform="matrix(1.056 0 0 1 -82.64 0)">****</text>
<text x="1514.25" y="1578.8" font-size="25.5" text-anchor="middle">NS</text>
<text x="1526.02 1542.6 1559.17 1575.74" y="1452.7" font-size="36.5" stroke="#000" stroke-width="0.45" transform="matrix(1.056 0 0 1 -87.25 0)">****</text>
<polyline points="1390.75,1413.95 1390.75,1406.45 1471.25,1406.45 1471.25,1413.95" fill="none" stroke="#000" stroke-width="2.85" stroke-linecap="round" stroke-linejoin="round"/>
<text x="1419.1 1435.67" y="1413.2" font-size="36.5" stroke="#000" stroke-width="0.45" transform="matrix(1.056 0 0 1 -80.33 0)">**</text>
<polyline points="1471.25,1400.7 1471.25,1393.7 1552,1393.7 1552,1400.7" fill="none" stroke="#000" stroke-width="2.85" stroke-linecap="round" stroke-linejoin="round"/>
<text x="1511.25" y="1388.3" font-size="25.5" text-anchor="middle">NS</text>
<polyline points="1390.75,1367.7 1390.75,1360.2 1552,1360.2 1552,1367.7" fill="none" stroke="#000" stroke-width="2.85" stroke-linecap="round" stroke-linejoin="round"/>
<text x="1472.5" y="1352.05" font-size="25.5" text-anchor="middle">NS</text>
<line x1="1648.75" y1="1395.05" x2="1648.75" y2="1681.9" stroke="#000" stroke-width="2.8" stroke-linecap="butt"/>
<line x1="1641.25" y1="1396.25" x2="1648.75" y2="1396.25" stroke="#000" stroke-width="2.8" stroke-linecap="butt"/>
<line x1="1641.25" y1="1453" x2="1648.75" y2="1453" stroke="#000" stroke-width="2.8" stroke-linecap="butt"/>
<line x1="1641.25" y1="1510" x2="1648.75" y2="1510" stroke="#000" stroke-width="2.8" stroke-linecap="butt"/>
<line x1="1641.25" y1="1567" x2="1648.75" y2="1567" stroke="#000" stroke-width="2.8" stroke-linecap="butt"/>
<line x1="1641.25" y1="1623.75" x2="1648.75" y2="1623.75" stroke="#000" stroke-width="2.8" stroke-linecap="butt"/>
<line x1="1641.25" y1="1680.5" x2="1648.75" y2="1680.5" stroke="#000" stroke-width="2.8" stroke-linecap="butt"/>
<line x1="1640.75" y1="1680.5" x2="1960.25" y2="1680.5" stroke="#000" stroke-width="2.8" stroke-linecap="butt"/>
<line x1="1683.75" y1="1680.5" x2="1683.75" y2="1689" stroke="#000" stroke-width="2.8" stroke-linecap="butt"/>
<text x="1683.75" y="1723.3" font-size="29.5" text-anchor="middle">PBS</text>
<line x1="1763.75" y1="1680.5" x2="1763.75" y2="1689" stroke="#000" stroke-width="2.8" stroke-linecap="butt"/>
<text x="1764.95" y="1723.3" font-size="29.5" text-anchor="middle" font-style="italic">Ms</text>
<line x1="1843.75" y1="1680.5" x2="1843.75" y2="1689" stroke="#000" stroke-width="2.8" stroke-linecap="butt"/>
<text x="1844.95" y="1723.3" font-size="29.5" text-anchor="middle" font-style="italic">Nb</text>
<line x1="1924.5" y1="1680.5" x2="1924.5" y2="1689" stroke="#000" stroke-width="2.8" stroke-linecap="butt"/>
<text x="1925.7" y="1723.3" font-size="29.5" text-anchor="middle" font-style="italic">Ca</text>
<rect x="1660.15" y="1622.15" width="17.2" height="58.35" fill="#fff" stroke="#000" stroke-width="2.8"/>
<line x1="1668.75" y1="1612.75" x2="1668.75" y2="1629.75" stroke="#000" stroke-width="2.5" stroke-linecap="butt"/>
<line x1="1662.25" y1="1612.75" x2="1675.25" y2="1612.75" stroke="#000" stroke-width="2.5" stroke-linecap="butt"/>
<line x1="1662.25" y1="1629.75" x2="1675.25" y2="1629.75" stroke="#000" stroke-width="2.5" stroke-linecap="butt"/>
<circle cx="1668.75" cy="1613.75" r="5.3" fill="#000"/>
<circle cx="1664.75" cy="1617.75" r="5.3" fill="#000"/>
<circle cx="1672.75" cy="1617.75" r="5.3" fill="#000"/>
<circle cx="1668.75" cy="1623.75" r="5.3" fill="#000"/>
<circle cx="1668.75" cy="1632.75" r="5.3" fill="#000"/>
<rect x="1740.4" y="1567.65" width="17.2" height="112.85" fill="#fff" stroke="#000" stroke-width="2.8"/>
<line x1="1749" y1="1554.25" x2="1749" y2="1574.25" stroke="#000" stroke-width="2.5" stroke-linecap="butt"/>
<line x1="1742.5" y1="1554.25" x2="1755.5" y2="1554.25" stroke="#000" stroke-width="2.5" stroke-linecap="butt"/>
<line x1="1742.5" y1="1574.25" x2="1755.5" y2="1574.25" stroke="#000" stroke-width="2.5" stroke-linecap="butt"/>
<circle cx="1749" cy="1548.25" r="5.3" fill="#000"/>
<circle cx="1745" cy="1563.25" r="5.3" fill="#000"/>
<circle cx="1754" cy="1563.25" r="5.3" fill="#000"/>
<circle cx="1745" cy="1573.25" r="5.3" fill="#000"/>
<circle cx="1753" cy="1572.25" r="5.3" fill="#000"/>
<rect x="1770.9" y="1461.4" width="16.45" height="219.1" fill="#3fae1c" stroke="#000" stroke-width="2.8"/>
<line x1="1779.12" y1="1400" x2="1779.12" y2="1517" stroke="#000" stroke-width="2.5" stroke-linecap="butt"/>
<line x1="1772.62" y1="1400" x2="1785.62" y2="1400" stroke="#000" stroke-width="2.5" stroke-linecap="butt"/>
<line x1="1772.62" y1="1517" x2="1785.62" y2="1517" stroke="#000" stroke-width="2.5" stroke-linecap="butt"/>
<rect x="1768.88" y="1395.75" width="10.5" height="10.5" fill="#000"/>
<rect x="1778.88" y="1396.75" width="10.5" height="10.5" fill="#000"/>
<rect x="1768.88" y="1478.75" width="10.5" height="10.5" fill="#000"/>
<rect x="1778.88" y="1478.75" width="10.5" height="10.5" fill="#000"/>
<rect x="1773.88" y="1526.75" width="10.5" height="10.5" fill="#000"/>
<rect x="1820.15" y="1587.65" width="17.45" height="92.85" fill="#fff" stroke="#000" stroke-width="2.8"/>
<line x1="1828.88" y1="1580.25" x2="1828.88" y2="1592.25" stroke="#000" stroke-width="2.5" stroke-linecap="butt"/>
<line x1="1822.38" y1="1580.25" x2="1835.38" y2="1580.25" stroke="#000" stroke-width="2.5" stroke-linecap="butt"/>
<line x1="1822.38" y1="1592.25" x2="1835.38" y2="1592.25" stroke="#000" stroke-width="2.5" stroke-linecap="butt"/>
<circle cx="1833.88" cy="1576.25" r="5.3" fill="#000"/>
<circle cx="1824.88" cy="1583.25" r="5.3" fill="#000"/>
<circle cx="1829.88" cy="1588.25" r="5.3" fill="#000"/>
<circle cx="1824.88" cy="1597.25" r="5.3" fill="#000"/>
<circle cx="1832.88" cy="1592.25" r="5.3" fill="#000"/>
<rect x="1850.9" y="1473.9" width="16.7" height="206.6" fill="#3fae1c" stroke="#000" stroke-width="2.8"/>
<line x1="1859.25" y1="1459.5" x2="1859.25" y2="1482.5" stroke="#000" stroke-width="2.5" stroke-linecap="butt"/>
<line x1="1852.75" y1="1459.5" x2="1865.75" y2="1459.5" stroke="#000" stroke-width="2.5" stroke-linecap="butt"/>
<line x1="1852.75" y1="1482.5" x2="1865.75" y2="1482.5" stroke="#000" stroke-width="2.5" stroke-linecap="butt"/>
<rect x="1854" y="1447.25" width="10.5" height="10.5" fill="#000"/>
<rect x="1859" y="1459.25" width="10.5" height="10.5" fill="#000"/>
<rect x="1849" y="1467.25" width="10.5" height="10.5" fill="#000"/>
<rect x="1854" y="1477.25" width="10.5" height="10.5" fill="#000"/>
<rect x="1850" y="1482.25" width="10.5" height="10.5" fill="#000"/>
<rect x="1900.4" y="1598.4" width="17.2" height="82.1" fill="#fff" stroke="#000" stroke-width="2.8"/>
<line x1="1909" y1="1593" x2="1909" y2="1601" stroke="#000" stroke-width="2.5" stroke-linecap="butt"/>
<line x1="1902.5" y1="1593" x2="1915.5" y2="1593" stroke="#000" stroke-width="2.5" stroke-linecap="butt"/>
<line x1="1902.5" y1="1601" x2="1915.5" y2="1601" stroke="#000" stroke-width="2.5" stroke-linecap="butt"/>
<circle cx="1905" cy="1592" r="5.3" fill="#000"/>
<circle cx="1914" cy="1589" r="5.3" fill="#000"/>
<circle cx="1909" cy="1594" r="5.3" fill="#000"/>
<circle cx="1905" cy="1601" r="5.3" fill="#000"/>
<circle cx="1913" cy="1599" r="5.3" fill="#000"/>
<rect x="1931.4" y="1493.9" width="16.2" height="186.6" fill="#3fae1c" stroke="#000" stroke-width="2.8"/>
<line x1="1939.5" y1="1475.5" x2="1939.5" y2="1502.5" stroke="#000" stroke-width="2.5" stroke-linecap="butt"/>
<line x1="1933" y1="1475.5" x2="1946" y2="1475.5" stroke="#000" stroke-width="2.5" stroke-linecap="butt"/>
<line x1="1933" y1="1502.5" x2="1946" y2="1502.5" stroke="#000" stroke-width="2.5" stroke-linecap="butt"/>
<rect x="1934.25" y="1465.25" width="10.5" height="10.5" fill="#000"/>
<rect x="1934.25" y="1473.25" width="10.5" height="10.5" fill="#000"/>
<rect x="1934.25" y="1482.25" width="10.5" height="10.5" fill="#000"/>
<rect x="1934.25" y="1501.25" width="10.5" height="10.5" fill="#000"/>
<rect x="1934.25" y="1505.25" width="10.5" height="10.5" fill="#000"/>
<text x="1734.34 1747.56" y="1533.7" font-size="20" stroke="#000" stroke-width="0.15" transform="matrix(0.87 0 0 1 227.05 0)">##</text>
<text x="1750.02 1766.6 1783.17 1799.74" y="1405.7" font-size="36.5" stroke="#000" stroke-width="0.45" transform="matrix(1.056 0 0 1 -99.79 0)">****</text>
<text x="1822.5" y="1564.55" font-size="25.5" text-anchor="middle">NS</text>
<text x="1832.02 1848.6 1865.17 1881.74" y="1454.45" font-size="36.5" stroke="#000" stroke-width="0.45" transform="matrix(1.056 0 0 1 -104.38 0)">****</text>
<text x="1903.25" y="1578.3" font-size="25.5" text-anchor="middle">NS</text>
<text x="1912.52 1929.1 1945.67 1962.24" y="1471.95" font-size="36.5" stroke="#000" stroke-width="0.45" transform="matrix(1.056 0 0 1 -108.89 0)">****</text>
<polyline points="1777.5,1374.45 1777.5,1366.95 1858.25,1366.95 1858.25,1374.45" fill="none" stroke="#000" stroke-width="2.85" stroke-linecap="round" stroke-linejoin="round"/>
<text x="1819.5" y="1360.8" font-size="25.5" text-anchor="middle">NS</text>
<polyline points="1858.25,1421.95 1858.25,1414.45 1938.75,1414.45 1938.75,1421.95" fill="none" stroke="#000" stroke-width="2.85" stroke-linecap="round" stroke-linejoin="round"/>
<text x="1898.25" y="1405.3" font-size="25.5" text-anchor="middle">NS</text>
<polyline points="1777.5,1339.45 1777.5,1331.95 1938.75,1331.95 1938.75,1339.45" fill="none" stroke="#000" stroke-width="2.85" stroke-linecap="round" stroke-linejoin="round"/>
<text x="1859.5" y="1325.05" font-size="25.5" text-anchor="middle">NS</text>
<text x="-0.6" y="1809.4" font-size="43" text-anchor="start" font-weight="bold">e</text>
<text x="121" y="1880.8" font-size="29" text-anchor="start">migDC1</text>
<text x="517.3" y="1880.3" font-size="29" text-anchor="start">CD11b<tspan font-size="18" dy="-11">hi</tspan><tspan dy="11"> migDC2</tspan></text>
<text x="1258.8" y="1879.5" font-size="29" text-anchor="start">CD11b<tspan font-size="18" dy="-11">low</tspan><tspan dy="11"> migDC2</tspan></text>
<text x="103.7" y="1926.8" font-size="29.5" text-anchor="end" font-style="italic">Il12a</text>
<text x="103.7" y="1963.14" font-size="29.5" text-anchor="end" font-style="italic">Il12b</text>
<text x="103.7" y="1999.48" font-size="29.5" text-anchor="end" font-style="italic">Il27a</text>
<text x="103.7" y="2035.82" font-size="29.5" text-anchor="end" font-style="italic">Ebi3</text>
<text x="103.7" y="2072.16" font-size="29.5" text-anchor="end" font-style="italic">Cxcl9</text>
<text x="103.7" y="2108.5" font-size="29.5" text-anchor="end" font-style="italic">Ccl17</text>
<text x="103.7" y="2144.84" font-size="29.5" text-anchor="end" font-style="italic">Ccl22</text>
<text x="103.7" y="2181.18" font-size="29.5" text-anchor="end" font-style="italic">Tnfsf4</text>
<text x="103.7" y="2217.52" font-size="29.5" text-anchor="end" font-style="italic">Il23a</text>
<text x="103.7" y="2253.86" font-size="29.5" text-anchor="end" font-style="italic">Il6</text>
<rect x="119.2" y="1897.8" width="121.13" height="36.74" fill="#a0d3e6"/>
<rect x="239.93" y="1897.8" width="121.13" height="36.74" fill="#eef6fb"/>
<rect x="360.67" y="1897.8" width="121.13" height="36.74" fill="#b3daeb"/>
<rect x="119.2" y="1934.14" width="121.13" height="36.74" fill="#fefbfa"/>
<rect x="239.93" y="1934.14" width="121.13" height="36.74" fill="#feede2"/>
<rect x="360.67" y="1934.14" width="121.13" height="36.74" fill="#fdf0e7"/>
<rect x="119.2" y="1970.48" width="121.13" height="36.74" fill="#fef5f0"/>
<rect x="239.93" y="1970.48" width="121.13" height="36.74" fill="#fef5f0"/>
<rect x="360.67" y="1970.48" width="121.13" height="36.74" fill="#fdf0e6"/>
<rect x="119.2" y="2006.82" width="121.13" height="36.74" fill="#e8f4f9"/>
<rect x="239.93" y="2006.82" width="121.13" height="36.74" fill="#fcfefd"/>
<rect x="360.67" y="2006.82" width="121.13" height="36.74" fill="#eef5fb"/>
<rect x="119.2" y="2043.16" width="121.13" height="36.74" fill="#fcd7b9"/>
<rect x="239.93" y="2043.16" width="121.13" height="36.74" fill="#f3f8fb"/>
<rect x="360.67" y="2043.16" width="121.13" height="36.74" fill="#fdede2"/>
<rect x="119.2" y="2079.5" width="121.13" height="36.74" fill="#bde2f0"/>
<rect x="239.93" y="2079.5" width="121.13" height="36.74" fill="#e7f3f9"/>
<rect x="360.67" y="2079.5" width="121.13" height="36.74" fill="#d6ebf5"/>
<rect x="119.2" y="2115.84" width="121.13" height="36.74" fill="#e1f1f8"/>
<rect x="239.93" y="2115.84" width="121.13" height="36.74" fill="#f9fafd"/>
<rect x="360.67" y="2115.84" width="121.13" height="36.74" fill="#eff6f9"/>
<rect x="119.2" y="2152.18" width="121.13" height="36.74" fill="#d9edf6"/>
<rect x="239.93" y="2152.18" width="121.13" height="36.74" fill="#e3f2f8"/>
<rect x="360.67" y="2152.18" width="121.13" height="36.74" fill="#eef5fb"/>
<rect x="119.2" y="2188.52" width="121.13" height="36.74" fill="#d5ebf5"/>
<rect x="239.93" y="2188.52" width="121.13" height="36.74" fill="#eaf4fa"/>
<rect x="360.67" y="2188.52" width="121.13" height="36.74" fill="#d8ebf5"/>
<rect x="119.2" y="2224.86" width="121.13" height="36.74" fill="#fefbfa"/>
<rect x="239.93" y="2224.86" width="121.13" height="36.74" fill="#ffffff"/>
<rect x="360.67" y="2224.86" width="121.13" height="36.74" fill="#fdeee4"/>
<line x1="117.7" y1="1897.8" x2="482.9" y2="1897.8" stroke="#000" stroke-width="3" stroke-linecap="butt"/>
<line x1="117.7" y1="1934.14" x2="482.9" y2="1934.14" stroke="#000" stroke-width="3" stroke-linecap="butt"/>
<line x1="117.7" y1="1970.48" x2="482.9" y2="1970.48" stroke="#000" stroke-width="3" stroke-linecap="butt"/>
<line x1="117.7" y1="2006.82" x2="482.9" y2="2006.82" stroke="#000" stroke-width="3" stroke-linecap="butt"/>
<line x1="117.7" y1="2043.16" x2="482.9" y2="2043.16" stroke="#000" stroke-width="3" stroke-linecap="butt"/>
<line x1="117.7" y1="2079.5" x2="482.9" y2="2079.5" stroke="#000" stroke-width="3" stroke-linecap="butt"/>
<line x1="117.7" y1="2115.84" x2="482.9" y2="2115.84" stroke="#000" stroke-width="3" stroke-linecap="butt"/>
<line x1="117.7" y1="2152.18" x2="482.9" y2="2152.18" stroke="#000" stroke-width="3" stroke-linecap="butt"/>
<line x1="117.7" y1="2188.52" x2="482.9" y2="2188.52" stroke="#000" stroke-width="3" stroke-linecap="butt"/>
<line x1="117.7" y1="2224.86" x2="482.9" y2="2224.86" stroke="#000" stroke-width="3" stroke-linecap="butt"/>
<line x1="117.7" y1="2261.2" x2="482.9" y2="2261.2" stroke="#000" stroke-width="3" stroke-linecap="butt"/>
<line x1="119.2" y1="1896.3" x2="119.2" y2="2264.4" stroke="#000" stroke-width="3" stroke-linecap="butt"/>
<line x1="239.93" y1="1896.3" x2="239.93" y2="2261.2" stroke="#000" stroke-width="3" stroke-linecap="butt"/>
<line x1="360.67" y1="1896.3" x2="360.67" y2="2261.2" stroke="#000" stroke-width="3" stroke-linecap="butt"/>
<line x1="481.4" y1="1896.3" x2="481.4" y2="2264.4" stroke="#000" stroke-width="3" stroke-linecap="butt"/>
<rect x="513" y="1897.8" width="117.03" height="36.74" fill="#f3f8fc"/>
<rect x="629.63" y="1897.8" width="117.03" height="36.74" fill="#fdddc6"/>
<rect x="746.27" y="1897.8" width="117.03" height="36.74" fill="#e3f2f8"/>
<rect x="862.9" y="1897.8" width="117.03" height="36.74" fill="#e3f2f8"/>
<rect x="979.53" y="1897.8" width="117.03" height="36.74" fill="#e3f2f8"/>
<rect x="1096.17" y="1897.8" width="117.03" height="36.74" fill="#fffbfa"/>
<rect x="513" y="1934.14" width="117.03" height="36.74" fill="#eef6f9"/>
<rect x="629.63" y="1934.14" width="117.03" height="36.74" fill="#fdc9a3"/>
<rect x="746.27" y="1934.14" width="117.03" height="36.74" fill="#fff8f4"/>
<rect x="862.9" y="1934.14" width="117.03" height="36.74" fill="#f7f9fd"/>
<rect x="979.53" y="1934.14" width="117.03" height="36.74" fill="#fef3ed"/>
<rect x="1096.17" y="1934.14" width="117.03" height="36.74" fill="#fdddc6"/>
<rect x="513" y="1970.48" width="117.03" height="36.74" fill="#fdd1b0"/>
<rect x="629.63" y="1970.48" width="117.03" height="36.74" fill="#f27f1f"/>
<rect x="746.27" y="1970.48" width="117.03" height="36.74" fill="#fde0d1"/>
<rect x="862.9" y="1970.48" width="117.03" height="36.74" fill="#fdc596"/>
<rect x="979.53" y="1970.48" width="117.03" height="36.74" fill="#fdd8bb"/>
<rect x="1096.17" y="1970.48" width="117.03" height="36.74" fill="#fdd8bb"/>
<rect x="513" y="2006.82" width="117.03" height="36.74" fill="#e9f5f9"/>
<rect x="629.63" y="2006.82" width="117.03" height="36.74" fill="#fdebdf"/>
<rect x="746.27" y="2006.82" width="117.03" height="36.74" fill="#fef2ea"/>
<rect x="862.9" y="2006.82" width="117.03" height="36.74" fill="#fddbc6"/>
<rect x="979.53" y="2006.82" width="117.03" height="36.74" fill="#fffbfa"/>
<rect x="1096.17" y="2006.82" width="117.03" height="36.74" fill="#fffbfa"/>
<rect x="513" y="2043.16" width="117.03" height="36.74" fill="#f9a058"/>
<rect x="629.63" y="2043.16" width="117.03" height="36.74" fill="#f9a058"/>
<rect x="746.27" y="2043.16" width="117.03" height="36.74" fill="#fef2ea"/>
<rect x="862.9" y="2043.16" width="117.03" height="36.74" fill="#fde4d7"/>
<rect x="979.53" y="2043.16" width="117.03" height="36.74" fill="#fdd2b3"/>
<rect x="1096.17" y="2043.16" width="117.03" height="36.74" fill="#fdebe0"/>
<rect x="513" y="2079.5" width="117.03" height="36.74" fill="#d9edf6"/>
<rect x="629.63" y="2079.5" width="117.03" height="36.74" fill="#f4f9fa"/>
<rect x="746.27" y="2079.5" width="117.03" height="36.74" fill="#fef1e8"/>
<rect x="862.9" y="2079.5" width="117.03" height="36.74" fill="#fdd8bd"/>
<rect x="979.53" y="2079.5" width="117.03" height="36.74" fill="#edf5fb"/>
<rect x="1096.17" y="2079.5" width="117.03" height="36.74" fill="#fde6da"/>
<rect x="513" y="2115.84" width="117.03" height="36.74" fill="#ddf0f7"/>
<rect x="629.63" y="2115.84" width="117.03" height="36.74" fill="#f7f9fe"/>
<rect x="746.27" y="2115.84" width="117.03" height="36.74" fill="#fef6f1"/>
<rect x="862.9" y="2115.84" width="117.03" height="36.74" fill="#fddcc4"/>
<rect x="979.53" y="2115.84" width="117.03" height="36.74" fill="#fbfefd"/>
<rect x="1096.17" y="2115.84" width="117.03" height="36.74" fill="#fde9dc"/>
<rect x="513" y="2152.18" width="117.03" height="36.74" fill="#d3e8f4"/>
<rect x="629.63" y="2152.18" width="117.03" height="36.74" fill="#e3f3f8"/>
<rect x="746.27" y="2152.18" width="117.03" height="36.74" fill="#fff9f6"/>
<rect x="862.9" y="2152.18" width="117.03" height="36.74" fill="#fde3d4"/>
<rect x="979.53" y="2152.18" width="117.03" height="36.74" fill="#fef3ed"/>
<rect x="1096.17" y="2152.18" width="117.03" height="36.74" fill="#fde3d4"/>
<rect x="513" y="2188.52" width="117.03" height="36.74" fill="#d6ecf5"/>
<rect x="629.63" y="2188.52" width="117.03" height="36.74" fill="#ddf0f7"/>
<rect x="746.27" y="2188.52" width="117.03" height="36.74" fill="#ffffff"/>
<rect x="862.9" y="2188.52" width="117.03" height="36.74" fill="#fddcc4"/>
<rect x="979.53" y="2188.52" width="117.03" height="36.74" fill="#d8edf6"/>
<rect x="1096.17" y="2188.52" width="117.03" height="36.74" fill="#fdc193"/>
<rect x="513" y="2224.86" width="117.03" height="36.74" fill="#fef2e8"/>
<rect x="629.63" y="2224.86" width="117.03" height="36.74" fill="#faa45f"/>
<rect x="746.27" y="2224.86" width="117.03" height="36.74" fill="#fffaf8"/>
<rect x="862.9" y="2224.86" width="117.03" height="36.74" fill="#fddcc4"/>
<rect x="979.53" y="2224.86" width="117.03" height="36.74" fill="#fde9dd"/>
<rect x="1096.17" y="2224.86" width="117.03" height="36.74" fill="#fbad6c"/>
<line x1="511.5" y1="1897.8" x2="1214.3" y2="1897.8" stroke="#000" stroke-width="3" stroke-linecap="butt"/>
<line x1="511.5" y1="1934.14" x2="1214.3" y2="1934.14" stroke="#000" stroke-width="3" stroke-linecap="butt"/>
<line x1="511.5" y1="1970.48" x2="1214.3" y2="1970.48" stroke="#000" stroke-width="3" stroke-linecap="butt"/>
<line x1="511.5" y1="2006.82" x2="1214.3" y2="2006.82" stroke="#000" stroke-width="3" stroke-linecap="butt"/>
<line x1="511.5" y1="2043.16" x2="1214.3" y2="2043.16" stroke="#000" stroke-width="3" stroke-linecap="butt"/>
<line x1="511.5" y1="2079.5" x2="1214.3" y2="2079.5" stroke="#000" stroke-width="3" stroke-linecap="butt"/>
<line x1="511.5" y1="2115.84" x2="1214.3" y2="2115.84" stroke="#000" stroke-width="3" stroke-linecap="butt"/>
<line x1="511.5" y1="2152.18" x2="1214.3" y2="2152.18" stroke="#000" stroke-width="3" stroke-linecap="butt"/>
<line x1="511.5" y1="2188.52" x2="1214.3" y2="2188.52" stroke="#000" stroke-width="3" stroke-linecap="butt"/>
<line x1="511.5" y1="2224.86" x2="1214.3" y2="2224.86" stroke="#000" stroke-width="3" stroke-linecap="butt"/>
<line x1="511.5" y1="2261.2" x2="1214.3" y2="2261.2" stroke="#000" stroke-width="3" stroke-linecap="butt"/>
<line x1="513" y1="1896.3" x2="513" y2="2264.4" stroke="#000" stroke-width="3" stroke-linecap="butt"/>
<line x1="629.63" y1="1896.3" x2="629.63" y2="2261.2" stroke="#000" stroke-width="3" stroke-linecap="butt"/>
<line x1="746.27" y1="1896.3" x2="746.27" y2="2261.2" stroke="#000" stroke-width="3" stroke-linecap="butt"/>
<line x1="862.9" y1="1896.3" x2="862.9" y2="2261.2" stroke="#000" stroke-width="3" stroke-linecap="butt"/>
<line x1="979.53" y1="1896.3" x2="979.53" y2="2261.2" stroke="#000" stroke-width="3" stroke-linecap="butt"/>
<line x1="1096.17" y1="1896.3" x2="1096.17" y2="2261.2" stroke="#000" stroke-width="3" stroke-linecap="butt"/>
<line x1="1212.8" y1="1896.3" x2="1212.8" y2="2264.4" stroke="#000" stroke-width="3" stroke-linecap="butt"/>
<rect x="1256.9" y="1897.8" width="117.35" height="36.74" fill="#f7fafd"/>
<rect x="1373.85" y="1897.8" width="117.35" height="36.74" fill="#fef4ee"/>
<rect x="1490.8" y="1897.8" width="117.35" height="36.74" fill="#e6f2f9"/>
<rect x="1607.75" y="1897.8" width="117.35" height="36.74" fill="#f1f8fb"/>
<rect x="1724.7" y="1897.8" width="117.35" height="36.74" fill="#e7f3f9"/>
<rect x="1841.65" y="1897.8" width="117.35" height="36.74" fill="#fde7da"/>
<rect x="1256.9" y="1934.14" width="117.35" height="36.74" fill="#b6dcee"/>
<rect x="1373.85" y="1934.14" width="117.35" height="36.74" fill="#c8e5f1"/>
<rect x="1490.8" y="1934.14" width="117.35" height="36.74" fill="#d3eaf5"/>
<rect x="1607.75" y="1934.14" width="117.35" height="36.74" fill="#5aaad1"/>
<rect x="1724.7" y="1934.14" width="117.35" height="36.74" fill="#c3e2ef"/>
<rect x="1841.65" y="1934.14" width="117.35" height="36.74" fill="#c3e2ef"/>
<rect x="1256.9" y="1970.48" width="117.35" height="36.74" fill="#eff6f9"/>
<rect x="1373.85" y="1970.48" width="117.35" height="36.74" fill="#fcc6a1"/>
<rect x="1490.8" y="1970.48" width="117.35" height="36.74" fill="#c9e5f1"/>
<rect x="1607.75" y="1970.48" width="117.35" height="36.74" fill="#b7dced"/>
<rect x="1724.7" y="1970.48" width="117.35" height="36.74" fill="#c5e3f0"/>
<rect x="1841.65" y="1970.48" width="117.35" height="36.74" fill="#dbeff7"/>
<rect x="1256.9" y="2006.82" width="117.35" height="36.74" fill="#d3e9f4"/>
<rect x="1373.85" y="2006.82" width="117.35" height="36.74" fill="#fbfefd"/>
<rect x="1490.8" y="2006.82" width="117.35" height="36.74" fill="#f4f9fd"/>
<rect x="1607.75" y="2006.82" width="117.35" height="36.74" fill="#fde9dd"/>
<rect x="1724.7" y="2006.82" width="117.35" height="36.74" fill="#eef5f8"/>
<rect x="1841.65" y="2006.82" width="117.35" height="36.74" fill="#eef6fa"/>
<rect x="1256.9" y="2043.16" width="117.35" height="36.74" fill="#fddcc7"/>
<rect x="1373.85" y="2043.16" width="117.35" height="36.74" fill="#fdceac"/>
<rect x="1490.8" y="2043.16" width="117.35" height="36.74" fill="#d4ebf5"/>
<rect x="1607.75" y="2043.16" width="117.35" height="36.74" fill="#f7fafe"/>
<rect x="1724.7" y="2043.16" width="117.35" height="36.74" fill="#cce7f2"/>
<rect x="1841.65" y="2043.16" width="117.35" height="36.74" fill="#cde7f3"/>
<rect x="1256.9" y="2079.5" width="117.35" height="36.74" fill="#e6f4fa"/>
<rect x="1373.85" y="2079.5" width="117.35" height="36.74" fill="#fde6d7"/>
<rect x="1490.8" y="2079.5" width="117.35" height="36.74" fill="#fde3d1"/>
<rect x="1607.75" y="2079.5" width="117.35" height="36.74" fill="#fdc7a0"/>
<rect x="1724.7" y="2079.5" width="117.35" height="36.74" fill="#f0f7fb"/>
<rect x="1841.65" y="2079.5" width="117.35" height="36.74" fill="#fde6d7"/>
<rect x="1256.9" y="2115.84" width="117.35" height="36.74" fill="#e6f3fa"/>
<rect x="1373.85" y="2115.84" width="117.35" height="36.74" fill="#fde6d7"/>
<rect x="1490.8" y="2115.84" width="117.35" height="36.74" fill="#fef0e7"/>
<rect x="1607.75" y="2115.84" width="117.35" height="36.74" fill="#fdc7a0"/>
<rect x="1724.7" y="2115.84" width="117.35" height="36.74" fill="#f7f9fd"/>
<rect x="1841.65" y="2115.84" width="117.35" height="36.74" fill="#fde9dc"/>
<rect x="1256.9" y="2152.18" width="117.35" height="36.74" fill="#f1f8fb"/>
<rect x="1373.85" y="2152.18" width="117.35" height="36.74" fill="#feece1"/>
<rect x="1490.8" y="2152.18" width="117.35" height="36.74" fill="#fde3d2"/>
<rect x="1607.75" y="2152.18" width="117.35" height="36.74" fill="#feece2"/>
<rect x="1724.7" y="2152.18" width="117.35" height="36.74" fill="#fde7da"/>
<rect x="1841.65" y="2152.18" width="117.35" height="36.74" fill="#ffffff"/>
<rect x="1256.9" y="2188.52" width="117.35" height="36.74" fill="#cfe8f3"/>
<rect x="1373.85" y="2188.52" width="117.35" height="36.74" fill="#93c9e2"/>
<rect x="1490.8" y="2188.52" width="117.35" height="36.74" fill="#ffffff"/>
<rect x="1607.75" y="2188.52" width="117.35" height="36.74" fill="#f7f9fd"/>
<rect x="1724.7" y="2188.52" width="117.35" height="36.74" fill="#c6e3f0"/>
<rect x="1841.65" y="2188.52" width="117.35" height="36.74" fill="#fddbc4"/>
<rect x="1256.9" y="2224.86" width="117.35" height="36.74" fill="#fde7da"/>
<rect x="1373.85" y="2224.86" width="117.35" height="36.74" fill="#fba865"/>
<rect x="1490.8" y="2224.86" width="117.35" height="36.74" fill="#fff6f2"/>
<rect x="1607.75" y="2224.86" width="117.35" height="36.74" fill="#fddbc4"/>
<rect x="1724.7" y="2224.86" width="117.35" height="36.74" fill="#fdeee6"/>
<rect x="1841.65" y="2224.86" width="117.35" height="36.74" fill="#fbb274"/>
<line x1="1255.4" y1="1897.8" x2="1960.1" y2="1897.8" stroke="#000" stroke-width="3" stroke-linecap="butt"/>
<line x1="1255.4" y1="1934.14" x2="1960.1" y2="1934.14" stroke="#000" stroke-width="3" stroke-linecap="butt"/>
<line x1="1255.4" y1="1970.48" x2="1960.1" y2="1970.48" stroke="#000" stroke-width="3" stroke-linecap="butt"/>
<line x1="1255.4" y1="2006.82" x2="1960.1" y2="2006.82" stroke="#000" stroke-width="3" stroke-linecap="butt"/>
<line x1="1255.4" y1="2043.16" x2="1960.1" y2="2043.16" stroke="#000" stroke-width="3" stroke-linecap="butt"/>
<line x1="1255.4" y1="2079.5" x2="1960.1" y2="2079.5" stroke="#000" stroke-width="3" stroke-linecap="butt"/>
<line x1="1255.4" y1="2115.84" x2="1960.1" y2="2115.84" stroke="#000" stroke-width="3" stroke-linecap="butt"/>
<line x1="1255.4" y1="2152.18" x2="1960.1" y2="2152.18" stroke="#000" stroke-width="3" stroke-linecap="butt"/>
<line x1="1255.4" y1="2188.52" x2="1960.1" y2="2188.52" stroke="#000" stroke-width="3" stroke-linecap="butt"/>
<line x1="1255.4" y1="2224.86" x2="1960.1" y2="2224.86" stroke="#000" stroke-width="3" stroke-linecap="butt"/>
<line x1="1255.4" y1="2261.2" x2="1960.1" y2="2261.2" stroke="#000" stroke-width="3" stroke-linecap="butt"/>
<line x1="1256.9" y1="1896.3" x2="1256.9" y2="2264.4" stroke="#000" stroke-width="3" stroke-linecap="butt"/>
<line x1="1373.85" y1="1896.3" x2="1373.85" y2="2261.2" stroke="#000" stroke-width="3" stroke-linecap="butt"/>
<line x1="1490.8" y1="1896.3" x2="1490.8" y2="2261.2" stroke="#000" stroke-width="3" stroke-linecap="butt"/>
<line x1="1607.75" y1="1896.3" x2="1607.75" y2="2261.2" stroke="#000" stroke-width="3" stroke-linecap="butt"/>
<line x1="1724.7" y1="1896.3" x2="1724.7" y2="2261.2" stroke="#000" stroke-width="3" stroke-linecap="butt"/>
<line x1="1841.65" y1="1896.3" x2="1841.65" y2="2261.2" stroke="#000" stroke-width="3" stroke-linecap="butt"/>
<line x1="1958.6" y1="1896.3" x2="1958.6" y2="2264.4" stroke="#000" stroke-width="3" stroke-linecap="butt"/>
<text x="649.09 670.62 692.15 713.68" y="1943.11" font-size="49.3" stroke="#000" stroke-width="0.6" transform="matrix(1.11 0 0 1 -76.01 0)">****</text>
<text x="659.35 680.89 702.42" y="1979.33" font-size="49.3" stroke="#000" stroke-width="0.6" transform="matrix(1.11 0 0 1 -75.96 0)">***</text>
<text x="649.09 670.62 692.15 713.68" y="2015.55" font-size="49.3" stroke="#000" stroke-width="0.6" transform="matrix(1.11 0 0 1 -76.01 0)">****</text>
<text x="882.59 904.12 925.65 947.18" y="2051.77" font-size="49.3" stroke="#000" stroke-width="0.6" transform="matrix(1.11 0 0 1 -101.7 0)">****</text>
<text x="550.62 572.15" y="2087.99" font-size="49.3" stroke="#000" stroke-width="0.6" transform="matrix(1.11 0 0 1 -62.81 0)">**</text>
<text x="649.09 670.62 692.15 713.68" y="2087.99" font-size="49.3" stroke="#000" stroke-width="0.6" transform="matrix(1.11 0 0 1 -76.01 0)">****</text>
<text x="895.35 916.89 938.42" y="2124.21" font-size="49.3" stroke="#000" stroke-width="0.6" transform="matrix(1.11 0 0 1 -101.92 0)">***</text>
<text x="887.09 908.62 930.15 951.68" y="2160.43" font-size="49.3" stroke="#000" stroke-width="0.6" transform="matrix(1.11 0 0 1 -102.19 0)">****</text>
<text x="1148.99" y="2160.43" font-size="49.3" stroke="#000" stroke-width="0.6" transform="matrix(1.11 0 0 1 -127.45 0)">*</text>
<text x="904.12 925.65" y="2196.65" font-size="49.3" stroke="#000" stroke-width="0.6" transform="matrix(1.11 0 0 1 -101.7 0)">**</text>
<text x="1141.62 1163.15" y="2196.65" font-size="49.3" stroke="#000" stroke-width="0.6" transform="matrix(1.11 0 0 1 -127.82 0)">**</text>
<text x="1137.32 1158.85" y="2232.87" font-size="49.3" stroke="#000" stroke-width="0.6" transform="matrix(1.11 0 0 1 -127.35 0)">**</text>
<text x="649.09 670.62 692.15 713.68" y="2269.09" font-size="49.3" stroke="#000" stroke-width="0.6" transform="matrix(1.11 0 0 1 -76.01 0)">****</text>
<text x="1146.42 1167.95" y="2269.09" font-size="49.3" stroke="#000" stroke-width="0.6" transform="matrix(1.11 0 0 1 -128.35 0)">**</text>
<text x="1392.49 1414.02 1435.55 1457.08" y="2015.55" font-size="49.3" stroke="#000" stroke-width="0.6" transform="matrix(1.11 0 0 1 -157.78 0)">****</text>
<text x="1425.39" y="2051.77" font-size="49.3" stroke="#000" stroke-width="0.6" transform="matrix(1.11 0 0 1 -157.85 0)">*</text>
<text x="1628.59 1650.12 1671.65 1693.18" y="2051.77" font-size="49.3" stroke="#000" stroke-width="0.6" transform="matrix(1.11 0 0 1 -183.76 0)">****</text>
<text x="1295.92 1317.45" y="2087.99" font-size="49.3" stroke="#000" stroke-width="0.6" transform="matrix(1.11 0 0 1 -144.79 0)">**</text>
<text x="1408.55 1430.09 1451.62" y="2087.99" font-size="49.3" stroke="#000" stroke-width="0.6" transform="matrix(1.11 0 0 1 -158.37 0)">***</text>
<text x="1638.35 1659.89 1681.42" y="2124.21" font-size="49.3" stroke="#000" stroke-width="0.6" transform="matrix(1.11 0 0 1 -183.65 0)">***</text>
<text x="1305.79" y="2160.43" font-size="49.3" stroke="#000" stroke-width="0.6" transform="matrix(1.11 0 0 1 -144.69 0)">*</text>
<text x="1627.59 1649.12 1670.65 1692.18" y="2160.43" font-size="49.3" stroke="#000" stroke-width="0.6" transform="matrix(1.11 0 0 1 -183.65 0)">****</text>
<text x="1393.09 1414.62 1436.15 1457.68" y="2269.09" font-size="49.3" stroke="#000" stroke-width="0.6" transform="matrix(1.11 0 0 1 -157.85 0)">****</text>
<text x="1872.45 1893.99 1915.52" y="2269.09" font-size="49.3" stroke="#000" stroke-width="0.6" transform="matrix(1.11 0 0 1 -209.4 0)">***</text>
<text x="183.9" y="2295.4" font-size="29" text-anchor="middle">Ag–</text>
<text x="301.2" y="2295.4" font-size="29" text-anchor="middle">Ag–</text>
<text x="430.3" y="2295.4" font-size="29" text-anchor="middle">Ag–</text>
<text x="184.5" y="2343.4" font-size="29" text-anchor="middle" font-style="italic">Ms</text>
<text x="302.4" y="2343.4" font-size="29" text-anchor="middle" font-style="italic">Nb</text>
<text x="431" y="2343.4" font-size="29" text-anchor="middle" font-style="italic">Ca</text>
<text x="573.9" y="2295.4" font-size="29" text-anchor="middle">Ag–</text>
<text x="690.9" y="2295.4" font-size="29" text-anchor="middle">Ag+</text>
<text x="809.8" y="2295.4" font-size="29" text-anchor="middle">Ag–</text>
<text x="927.7" y="2295.4" font-size="29" text-anchor="middle">Ag+</text>
<text x="1041" y="2295.4" font-size="29" text-anchor="middle">Ag–</text>
<text x="1165.8" y="2295.4" font-size="29" text-anchor="middle">Ag+</text>
<text x="1315.2" y="2295.4" font-size="29" text-anchor="middle">Ag–</text>
<text x="1424.7" y="2295.4" font-size="29" text-anchor="middle">Ag+</text>
<text x="1551.7" y="2295.4" font-size="29" text-anchor="middle">Ag–</text>
<text x="1660.9" y="2295.4" font-size="29" text-anchor="middle">Ag+</text>
<text x="1780.9" y="2295.4" font-size="29" text-anchor="middle">Ag–</text>
<text x="1889.9" y="2295.4" font-size="29" text-anchor="middle">Ag+</text>
<line x1="516" y1="2310.2" x2="736.6" y2="2310.2" stroke="#000" stroke-width="2.9" stroke-linecap="butt"/>
<line x1="755" y1="2310.2" x2="966" y2="2310.2" stroke="#000" stroke-width="2.9" stroke-linecap="butt"/>
<line x1="985.8" y1="2310.2" x2="1196.8" y2="2310.2" stroke="#000" stroke-width="2.9" stroke-linecap="butt"/>
<line x1="1258.8" y1="2310.2" x2="1478" y2="2310.2" stroke="#000" stroke-width="2.9" stroke-linecap="butt"/>
<line x1="1497" y1="2310.2" x2="1708.4" y2="2310.2" stroke="#000" stroke-width="2.9" stroke-linecap="butt"/>
<line x1="1728.3" y1="2310.2" x2="1938.2" y2="2310.2" stroke="#000" stroke-width="2.9" stroke-linecap="butt"/>
<text x="618.8" y="2343.4" font-size="29" text-anchor="middle" font-style="italic">Ms</text>
<text x="859" y="2343.4" font-size="29" text-anchor="middle" font-style="italic">Nb</text>
<text x="1092" y="2343.4" font-size="29" text-anchor="middle" font-style="italic">Ca</text>
<text x="1360.6" y="2343.4" font-size="29" text-anchor="middle" font-style="italic">Ms</text>
<text x="1599" y="2343.4" font-size="29" text-anchor="middle" font-style="italic">Nb</text>
<text x="1832.2" y="2343.4" font-size="29" text-anchor="middle" font-style="italic">Ca</text>
<defs><linearGradient id="cb" x1="0" x2="1" y1="0" y2="0"><stop offset="0" stop-color="#f08420"/><stop offset="0.08" stop-color="#f5944a"/><stop offset="0.25" stop-color="#fbb887"/><stop offset="0.40" stop-color="#fddcc6"/><stop offset="0.47" stop-color="#fef4ee"/><stop offset="0.5" stop-color="#ffffff"/><stop offset="0.6" stop-color="#e9f5fa"/><stop offset="0.75" stop-color="#bfe0ef"/><stop offset="0.9" stop-color="#86c3e0"/><stop offset="1" stop-color="#55a8d3"/></linearGradient></defs>
<rect x="1665" y="1801.4" width="294.4" height="33.6" fill="url(#cb)" stroke="#000" stroke-width="3"/>
<line x1="1689" y1="1801.4" x2="1689" y2="1807.5" stroke="#000" stroke-width="2.6" stroke-linecap="butt"/>
<line x1="1689" y1="1835" x2="1689" y2="1842.6" stroke="#000" stroke-width="2.6" stroke-linecap="butt"/>
<line x1="1808" y1="1801.4" x2="1808" y2="1807.5" stroke="#000" stroke-width="2.6" stroke-linecap="butt"/>
<line x1="1808" y1="1835" x2="1808" y2="1842.6" stroke="#000" stroke-width="2.6" stroke-linecap="butt"/>
<line x1="1927" y1="1801.4" x2="1927" y2="1807.5" stroke="#000" stroke-width="2.6" stroke-linecap="butt"/>
<line x1="1927" y1="1835" x2="1927" y2="1842.6" stroke="#000" stroke-width="2.6" stroke-linecap="butt"/>
<text x="1812.2" y="1785.2" font-size="29" text-anchor="middle">log2FC</text>
<text x="1689" y="1874.4" font-size="29" text-anchor="middle">5</text>
<text x="1808" y="1874.4" font-size="29" text-anchor="middle">0</text>
<text x="1926.2" y="1874.4" font-size="29" text-anchor="middle">–5</text>
</svg>
</body></html>
